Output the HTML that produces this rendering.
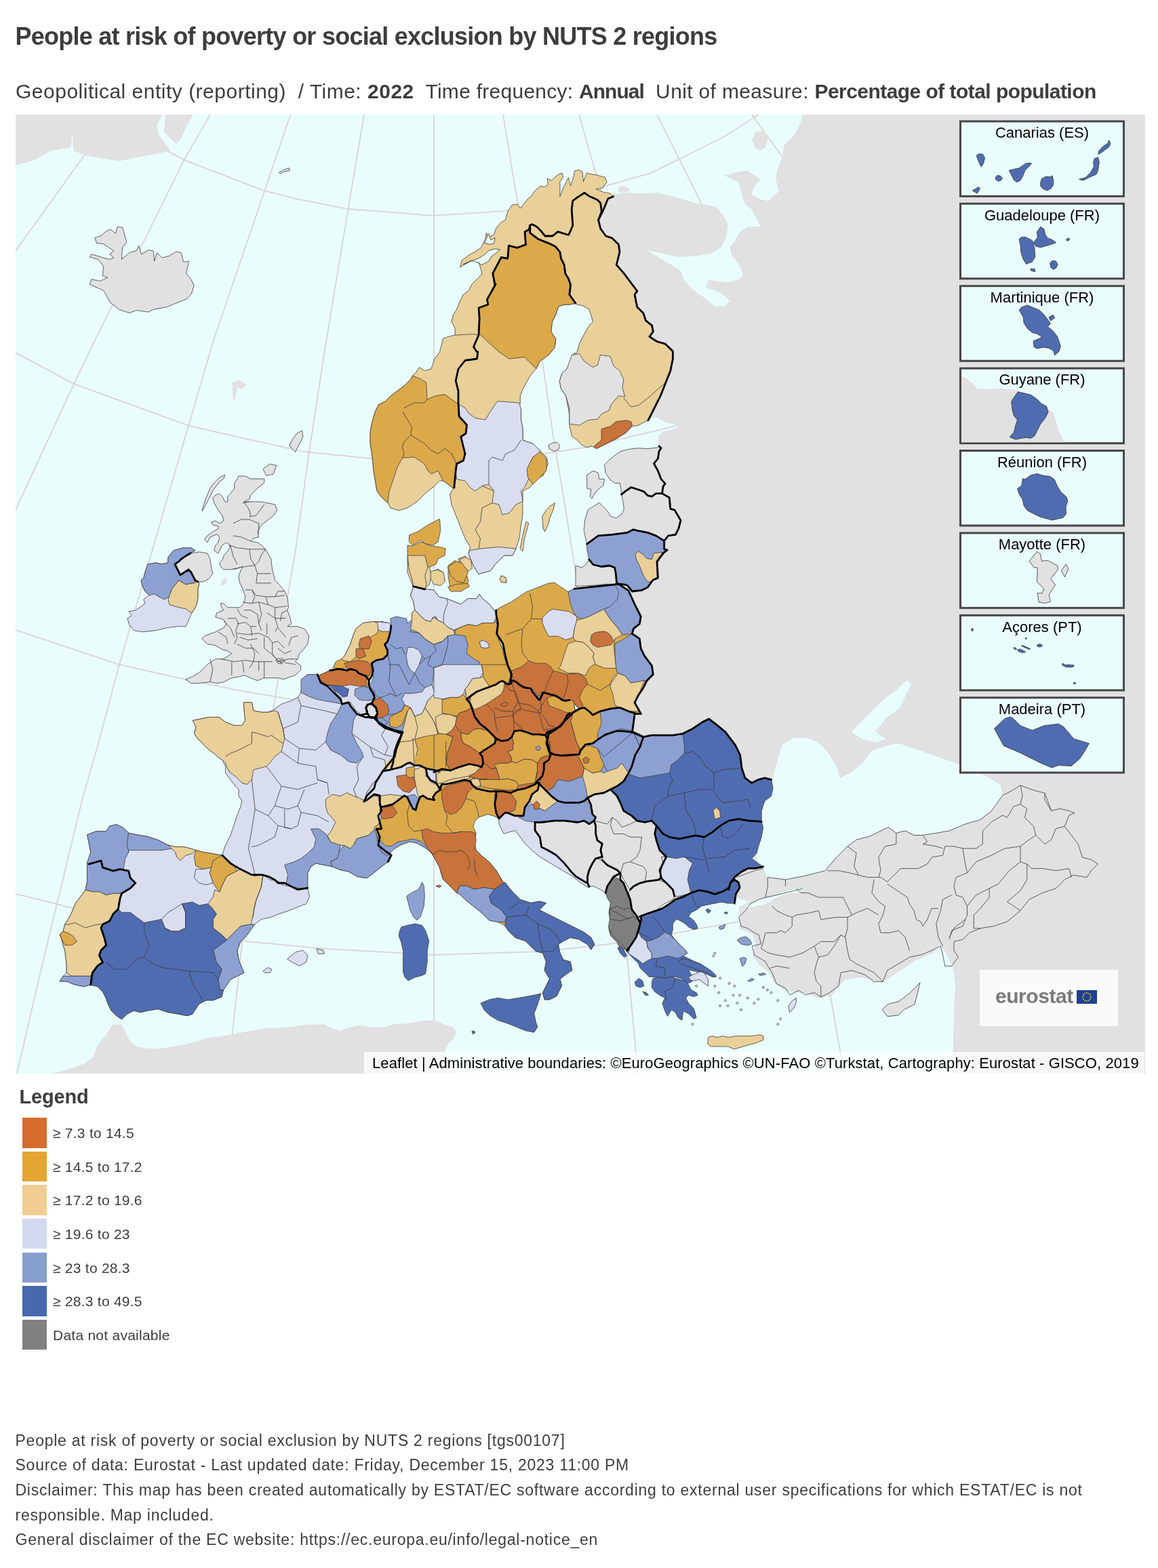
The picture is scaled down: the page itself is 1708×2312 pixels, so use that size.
<!DOCTYPE html>
<html><head><meta charset="utf-8"><title>People at risk of poverty or social exclusion by NUTS 2 regions</title>
<style>
html,body{margin:0;padding:0;background:#fff;}
body{width:1708px;height:2312px;position:relative;overflow:hidden;font-family:"Liberation Sans",Arial,sans-serif;color:#3d3d3d;}
.t{position:absolute;white-space:nowrap;line-height:1;}
#title{left:22.5px;top:36.3px;font-size:36px;font-weight:bold;letter-spacing:-0.75px;}
#sub{left:23px;top:119.9px;font-size:30px;}
#sub .n1{letter-spacing:0.5px;} #sub .n2{letter-spacing:0.27px;} #sub .n3{letter-spacing:0.35px;}
#sub b{font-weight:bold;}
#sub .b1{letter-spacing:0.5px;} #sub .b2{letter-spacing:-1px;} #sub .b3{letter-spacing:-0.55px;}
#map{position:absolute;left:23px;top:169px;width:1666px;height:1414px;overflow:hidden;background:#eafdfd;}
#map svg.m{position:absolute;left:0;top:0;}
#logo{position:absolute;left:1422px;top:1261px;width:204px;height:83px;background:#fafafa;}
#attr{position:absolute;left:514px;top:1382.3px;width:1151px;height:31.7px;background:rgba(255,255,255,0.72);}
#attr span{position:absolute;left:12px;top:6px;font-size:22px;letter-spacing:0.09px;color:#000;white-space:nowrap;line-height:1;}
#legend-title{left:28.5px;top:1603.3px;font-size:29px;font-weight:bold;letter-spacing:-0.2px;}
.sw{position:absolute;left:33px;width:36px;height:44.6px;}
.lt{position:absolute;left:78px;font-size:21px;letter-spacing:0.25px;color:#3d3d3d;white-space:nowrap;line-height:1;}
.ft{position:absolute;left:22.5px;font-size:23px;color:#3d3d3d;white-space:nowrap;line-height:1;letter-spacing:0.75px;}
</style></head><body>
<div class="t" id="title">People at risk of poverty or social exclusion by NUTS 2 regions</div>
<div class="t" id="sub"><span class="n1">Geopolitical entity (reporting)&nbsp; / Time: </span><b class="b1">2022</b><span class="n2">&nbsp; Time frequency: </span><b class="b2">Annual</b><span class="n3">&nbsp; Unit of measure: </span><b class="b3">Percentage of total population</b></div>
<div id="map">
<svg class="m" width="1666" height="1414" viewBox="23 169 1666 1414">
<g fill="none" stroke="#dcd6d6" stroke-width="2">
<path d="M246.0,222.0 272.0,236.0 389.0,281.0 436.0,293.0 513.0,308.0 640.0,318.0 746.0,311.0 873.0,280.0 960.0,255.0 999.0,236.0 1069.0,201.0 1119.0,169.0"/>
<path d="M23.0,520.0 109.0,566.0 278.0,627.5 323.0,638.0 448.0,666.0 546.0,676.0 640.0,677.0 801.0,669.0 862.0,660.0 985.0,631.0 1010.0,624.0"/>
<path d="M23.0,929.0 176.0,980.0 270.0,1001.0 357.0,1019.0 430.0,1031.0 500.0,1040.0"/>
<path d="M23.0,1318.0 60.0,1327.0 111.0,1340.0 363.0,1388.0 480.0,1399.0 638.0,1408.0 800.0,1403.0 890.0,1393.0 928.0,1388.0 996.0,1376.0 1089.0,1359.0"/>
<path d="M23.0,370.0 125.0,228.0 166.0,169.0"/>
<path d="M310.0,169.0 272.0,235.0 141.0,500.0 109.0,566.0 23.0,752.0"/>
<path d="M428.5,169.0 390.4,281.0 315.5,500.0 278.0,627.5 221.6,822.0 176.0,980.0 144.0,1100.0 121.0,1180.0 60.0,1432.0 25.0,1583.0"/>
<path d="M537.0,169.0 513.5,308.0 478.5,519.0 456.0,666.0 436.0,811.0 424.0,880.0 410.0,1002.0 403.0,1048.0 380.0,1230.0 357.0,1391.0 342.0,1531.0 338.0,1583.0"/>
<path d="M640.0,169.0 640.0,1583.0"/>
<path d="M742.0,169.0 763.5,299.0 801.0,539.0 816.0,644.0 829.0,720.0 849.0,844.0 900.0,1200.0 924.6,1405.6 938.0,1553.0 941.0,1583.0"/>
<path d="M854.0,169.0 879.0,256.5 900.0,330.0"/>
<path d="M969.0,169.0 1034.0,299.0 1060.0,350.0"/>
<path d="M1109.0,169.0 1154.0,231.5"/>
<path d="M1080.0,1000.0 1141.7,1129.8 1185.6,1285.0 1200.0,1350.0"/>
<path d="M1380.0,1050.0 1417.0,1138.0 1445.0,1205.6"/>
<path d="M1205.0,1380.0 1225.0,1469.0 1245.0,1583.0"/>
</g>
<g stroke="none" stroke-linejoin="round">
<path d="M23.0,169.0 239.1,169.0 231.5,184.3 234.0,199.5 251.8,222.4 213.7,230.0 175.6,237.6 129.8,230.0 108.2,222.4 106.9,197.0 104.4,217.3 73.9,222.4 53.5,235.1 23.0,244.0Z" fill="#e1e1e1"/>
<path d="M244.2,169.0 284.9,169.0 277.3,181.7 267.1,204.6 259.5,212.2 241.7,194.4Z" fill="#e1e1e1"/>
<path d="M140.0,350.8 150.1,347.0 155.2,341.9 162.8,338.1 170.5,344.4 173.0,334.3 180.6,335.5 187.0,357.2 180.6,364.8 179.4,382.6 190.8,372.4 201.0,369.9 204.8,362.2 208.6,374.9 218.8,368.6 226.4,369.9 227.7,385.1 231.5,372.4 239.1,380.0 249.3,377.5 259.5,371.1 267.1,372.4 270.9,386.4 278.5,385.1 274.7,402.9 282.3,413.1 286.2,420.7 282.3,433.4 274.7,441.1 262.0,446.1 246.7,452.5 226.4,456.3 218.8,460.1 201.0,457.6 190.8,461.4 175.6,456.3 162.8,446.1 152.7,428.3 132.3,419.4 134.9,411.8 147.6,414.4 159.0,409.3 151.4,406.7 152.7,392.7 145.0,382.6 132.3,378.8 134.9,374.9 161.6,382.6 167.9,380.0 161.6,374.9 167.9,369.9 152.7,359.7 142.5,358.4Z" fill="#e1e1e1" stroke="#3c3c3c" stroke-width="0.8"/>
<path d="M411.5,254.2 419.6,249.9 426.8,247.8 427.3,251.6 419.6,252.9 413.3,256.0Z" fill="#e1e1e1" stroke="#3c3c3c" stroke-width="0.8"/>
<path d="M343.0,564.0 353.0,560.0 363.0,566.5 358.0,574.0 350.5,571.5 348.0,584.0 345.5,594.0 343.0,584.0Z" fill="#e1e1e1"/>
<path d="M430.5,649.0 438.0,639.0 445.5,635.0 447.0,644.0 440.5,656.5 435.5,666.5 430.5,661.5 427.0,656.5Z" fill="#e1e1e1" stroke="#3c3c3c" stroke-width="0.8"/>
<path d="M388.0,691.5 398.0,684.0 408.0,686.5 403.0,699.0 393.0,701.5Z" fill="#e1e1e1" stroke="#3c3c3c" stroke-width="0.8"/>
<path d="M904.0,286.5 924.0,284.0 949.0,285.2 969.0,284.0 999.0,291.5 1024.0,299.0 1039.0,301.5 1056.5,305.2 1066.5,316.5 1074.0,331.5 1071.5,349.0 1064.0,364.0 1049.0,374.0 1024.0,377.8 999.0,379.0 979.0,374.0 954.0,369.0 979.0,384.0 1004.0,399.0 1009.0,414.0 1024.0,429.0 1039.0,439.0 1054.0,451.5 1069.0,451.5 1076.5,444.0 1069.0,436.5 1056.5,429.0 1041.5,424.0 1044.0,412.8 1074.0,416.5 1091.5,411.5 1096.5,404.0 1089.0,389.0 1079.0,376.5 1076.5,364.0 1081.5,359.0 1091.5,341.5 1104.0,334.0 1121.5,334.0 1114.0,319.0 1109.0,309.0 1099.0,301.5 1094.0,286.5 1089.0,269.0 1074.0,261.5 1069.0,259.0 1086.5,254.0 1101.5,251.5 1114.0,259.0 1121.5,264.0 1111.5,276.5 1109.0,286.5 1121.5,294.0 1134.0,296.5 1149.0,281.5 1144.0,264.0 1146.5,249.0 1154.0,231.5 1156.5,214.0 1171.5,199.0 1181.5,179.0 1184.0,169.0 1689.0,169.0 1689.0,1583.0 1405.0,1583.0 1407.0,1488.8 1409.0,1448.9 1405.0,1425.0 1393.0,1401.0 1385.0,1393.1 1377.1,1405.0 1349.1,1417.0 1325.2,1433.0 1301.3,1448.9 1269.3,1440.9 1245.4,1444.9 1225.5,1468.9 1205.5,1470.9 1189.6,1464.9 1157.7,1460.9 1141.7,1448.9 1133.7,1433.0 1121.8,1425.0 1109.8,1409.0 1113.8,1393.1 1109.8,1377.1 1089.8,1369.1 1091.8,1361.2 1089.8,1337.2 1105.8,1329.2 1089.8,1325.3 1060.0,1300.0 1000.0,1330.0 960.0,1330.0 900.0,1280.0 860.0,1260.0 850.0,1200.0 880.0,1100.0 900.0,1000.0 920.0,900.0 930.0,800.0 930.0,700.0 950.0,670.0 972.1,657.7 970.5,650.1 970.5,644.1 978.1,636.5 990.3,633.4 1002.5,629.6 994.9,625.8 981.2,622.8 967.5,615.2 955.4,619.8 956.1,619.7 965.2,601.6 974.3,583.4 981.5,565.3 988.8,547.1 992.4,529.0 992.4,518.1 981.5,507.2 968.8,503.5 957.9,496.3 963.4,489.0 961.6,479.9 952.5,472.7 948.9,461.8 939.8,452.7 936.1,434.5 939.8,429.1 932.5,420.0 920.3,403.1 909.3,390.5 914.0,371.6 912.5,360.6 903.0,351.2 893.6,348.0 885.7,337.0 882.6,324.4 885.7,318.1 888.9,311.8 893.6,300.8 896.7,293.0 904.6,289.8Z" fill="#e1e1e1"/>
<path d="M1139.7,1147.7 1145.7,1125.8 1153.7,1097.9 1169.6,1087.9 1189.6,1087.9 1205.5,1093.9 1221.5,1109.8 1233.4,1129.8 1239.4,1147.7 1257.4,1137.8 1273.3,1123.8 1285.3,1107.8 1305.3,1099.9 1325.2,1095.9 1349.1,1103.9 1377.1,1113.8 1405.0,1123.8 1432.9,1133.8 1456.8,1145.7 1472.8,1155.7 1475.6,1156.3 1478.8,1172.7 1462.5,1195.6 1446.1,1208.6 1423.2,1215.2 1400.4,1225.0 1380.8,1228.3 1361.1,1231.5 1348.1,1231.5 1335.0,1225.0 1321.9,1228.3 1310.5,1220.1 1305.6,1221.7 1282.7,1233.2 1263.1,1238.1 1250.0,1247.9 1233.6,1264.2 1217.3,1283.8 1184.6,1292.0 1158.5,1296.9 1132.3,1293.6 1125.8,1280.6 1121.8,1277.4 1111.8,1257.4 1115.8,1225.5 1123.7,1201.6 1125.7,1169.7Z" fill="#eafdfd"/>
<path d="M1255.7,1079.0 1271.0,1064.0 1291.0,1044.0 1306.5,1028.5 1321.8,1018.0 1337.0,1003.0 1344.7,1008.0 1337.0,1023.0 1327.0,1044.0 1306.5,1059.0 1291.0,1079.0 1306.5,1089.5 1291.0,1094.6 1271.0,1089.5Z" fill="#eafdfd"/>
<path d="M1099.6,1336.1 1119.2,1326.3 1138.8,1323.1 1161.7,1313.3 1184.6,1308.4 1187.9,1310.0 1174.8,1316.5 1158.5,1318.2 1145.4,1323.1 1129.0,1332.9 1116.0,1336.1 1102.9,1339.4Z" fill="#eafdfd"/>
<path d="M1109.0,206.5 1114.0,194.0 1126.5,192.8 1134.0,201.5 1129.0,216.5 1121.5,222.8 1114.0,219.0Z" fill="#e1e1e1"/>
<path d="M911.5,276.5 916.5,274.0 926.5,276.5 929.0,281.5 921.5,284.0 912.8,282.8Z" fill="#e1e1e1"/>
<path d="M648.5,519.0 651.0,509.0 653.5,499.0 661.0,496.5 671.0,494.0 671.0,484.0 666.0,474.0 668.5,464.0 673.5,456.5 678.5,444.0 683.5,434.0 691.0,429.0 696.0,419.0 703.5,411.5 711.0,404.0 708.5,394.0 706.0,386.5 696.0,384.0 678.5,394.0 681.0,384.0 691.0,376.5 700.0,371.5 700.0,371.6 709.4,365.3 715.7,352.8 717.3,343.3 720.5,349.6 728.3,346.5 731.5,337.0 739.3,327.6 745.6,324.4 748.8,311.8 755.1,302.4 763.0,300.8 767.7,307.1 772.4,300.8 778.7,293.0 783.4,289.8 788.1,281.9 797.6,274.1 802.3,275.6 808.6,272.5 807.0,263.1 813.3,266.2 818.0,261.5 824.3,256.8 829.1,255.2 830.6,261.5 825.9,267.8 825.9,289.8 830.6,277.2 838.5,261.5 841.6,274.1 844.8,264.6 847.9,252.0 854.2,250.5 859.0,253.6 860.5,267.8 865.3,255.2 873.1,256.8 881.0,258.3 892.0,261.5 895.2,267.8 888.9,277.2 879.4,278.8 890.4,283.5 899.9,285.1 904.6,289.8 896.7,293.0 893.6,300.8 888.9,311.8 885.7,318.1 882.6,324.4 887.3,311.8 885.7,299.2 881.0,294.5 870.0,289.8 862.1,284.3 851.1,291.4 844.8,296.1 843.2,308.7 844.8,332.3 841.6,340.2 838.5,346.5 822.8,341.7 814.9,348.0 803.9,348.0 797.6,340.2 791.3,333.9 785.0,330.7 781.8,332.3 780.3,338.6 774.0,341.7 775.5,360.6 763.0,365.3 750.4,362.2 748.8,381.1 739.3,379.5 726.8,403.1 729.9,420.0 731.0,419.0 718.5,441.5 719.8,449.0 706.0,454.0 707.2,469.0 706.0,494.0 698.5,511.5 703.5,519.0 704.8,519.0 703.5,529.0 686.0,531.5 676.0,544.0 672.2,561.5 676.0,576.5 676.0,594.0 677.2,614.0 688.5,626.5 687.2,639.0 679.8,644.0 683.5,659.0 686.0,669.0 683.5,679.0 673.5,684.0 672.2,694.0 671.0,706.5 669.8,719.0 668.5,720.2 661.0,714.0 653.5,709.0 648.5,709.0 641.0,716.5 628.5,726.5 616.0,739.0 601.0,749.0 588.5,752.8 576.0,749.0 572.2,741.5 563.5,734.0 556.0,724.0 553.5,709.0 551.0,694.0 549.8,681.5 548.5,669.0 546.0,654.0 546.0,636.5 548.5,624.0 553.5,606.5 558.5,596.5 568.5,591.5 576.0,584.0 586.0,576.5 596.0,569.0 606.0,559.0 608.5,554.0 613.5,549.0 618.5,541.5 626.0,546.5 636.0,544.0 641.0,529.0 648.5,519.0Z" fill="#e9cf98" stroke="#3c3c3c" stroke-width="0.8"/>
<path d="M608.5,554.0 621.0,559.0 628.5,564.0 629.8,581.5 629.8,589.0 641.0,584.0 656.0,581.5 673.5,594.0 676.0,594.0 677.2,614.0 688.5,626.5 687.2,639.0 679.8,644.0 683.5,659.0 686.0,669.0 683.5,679.0 673.5,684.0 672.2,694.0 671.0,706.5 669.8,719.0 668.5,720.2 661.0,714.0 653.5,709.0 651.0,704.0 646.0,694.0 636.0,699.0 631.0,694.0 626.0,684.0 611.0,674.0 593.5,675.2 586.0,689.0 578.5,711.5 573.5,726.5 572.2,741.5 563.5,734.0 556.0,724.0 553.5,709.0 551.0,694.0 549.8,681.5 548.5,669.0 546.0,654.0 546.0,636.5 548.5,624.0 553.5,606.5 558.5,596.5 568.5,591.5 576.0,584.0 586.0,576.5 596.0,569.0 606.0,559.0Z" fill="#dba94a" stroke="#3c3c3c" stroke-width="0.8"/>
<path d="M683.0,389.8 694.0,385.0 705.0,381.4 714.4,375.9 720.7,369.6 730.2,366.8 737.7,368.4 730.2,374.3 723.9,379.1 720.7,385.3 712.9,389.3 708.9,390.5 706.6,387.2 695.5,384.7Z" fill="#eafdfd" stroke="#333" stroke-width="0.8"/>
<path d="M714.4,358.6 720.7,344.4 723.9,353.9 730.2,350.7 728.6,358.6 722.3,360.2Z" fill="#eafdfd" stroke="#333" stroke-width="0.8"/>
<path d="M781.8,332.3 781.8,343.3 794.4,352.8 810.2,359.1 819.6,363.8 825.9,371.6 827.5,381.1 832.2,390.5 833.8,403.1 838.5,411.0 841.6,420.0 839.9,434.5 849.0,447.2 839.9,449.1 832.6,449.1 823.6,451.8 819.9,463.6 814.5,474.5 812.7,489.0 819.9,499.9 818.1,512.6 809.0,523.5 796.3,532.6 790.9,543.5 781.8,554.4 772.7,570.7 767.3,583.4 767.3,594.3 765.4,601.6 760.0,603.4 768.5,604.0 768.5,619.0 771.0,631.5 771.0,649.0 786.0,654.0 796.0,664.0 806.0,674.0 808.5,684.0 801.0,701.5 791.0,706.5 781.0,719.0 771.0,724.0 771.0,744.0 771.0,759.0 768.5,774.0 766.0,794.0 761.0,809.0 756.0,819.0 743.5,819.0 731.0,831.5 723.5,841.5 706.0,846.5 701.0,839.0 696.0,829.0 691.0,816.5 693.5,806.5 686.0,794.0 681.0,781.5 676.0,769.0 671.0,756.5 666.0,744.0 663.5,729.0 668.5,720.2 669.8,719.0 671.0,706.5 672.2,694.0 673.5,684.0 683.5,679.0 686.0,669.0 683.5,659.0 679.8,644.0 687.2,639.0 688.5,626.5 677.2,614.0 676.0,594.0 676.0,576.5 672.2,561.5 676.0,544.0 686.0,531.5 703.5,529.0 704.8,519.0 703.5,519.0 698.5,511.5 706.0,494.0 707.2,469.0 706.0,454.0 719.8,449.0 718.5,441.5 731.0,419.0 726.8,403.1 739.3,379.5 748.8,381.1 750.4,362.2 763.0,365.3 775.5,360.6 774.0,341.7 780.3,338.6Z" fill="#e9cf98" stroke="#3c3c3c" stroke-width="0.8"/>
<path d="M781.8,332.3 781.8,343.3 794.4,352.8 810.2,359.1 819.6,363.8 825.9,371.6 827.5,381.1 832.2,390.5 833.8,403.1 838.5,411.0 841.6,420.0 839.9,434.5 849.0,447.2 839.9,449.1 832.6,449.1 823.6,451.8 819.9,463.6 814.5,474.5 812.7,489.0 819.9,499.9 818.1,512.6 809.0,523.5 796.3,532.6 790.9,543.5 791.0,544.0 773.5,526.5 751.0,529.0 736.0,519.0 736.0,519.0 706.0,491.5 707.2,469.0 706.0,454.0 719.8,449.0 718.5,441.5 731.0,419.0 726.8,403.1 739.3,379.5 748.8,381.1 750.4,362.2 763.0,365.3 775.5,360.6 774.0,341.7 780.3,338.6Z" fill="#dba94a" stroke="#3c3c3c" stroke-width="0.8"/>
<path d="M677.2,596.5 686.0,601.5 691.0,609.0 701.0,616.5 716.0,619.0 723.5,606.5 733.5,591.5 766.0,594.0 768.5,604.0 768.5,619.0 771.0,631.5 771.0,649.0 786.0,654.0 796.0,664.0 796.0,669.0 786.0,674.0 778.5,691.5 781.0,704.0 773.5,719.0 768.5,724.0 771.0,739.0 761.0,744.0 751.0,756.5 741.0,759.0 736.0,744.0 726.0,741.5 728.5,724.0 721.0,714.0 711.0,716.5 701.0,724.0 693.5,719.0 686.0,709.0 673.5,706.5 672.2,694.0 673.5,684.0 683.5,679.0 686.0,669.0 683.5,659.0 679.8,644.0 687.2,639.0 688.5,626.5 677.2,614.0Z" fill="#d9ddf0" stroke="#3c3c3c" stroke-width="0.8"/>
<path d="M786.0,674.0 796.0,666.5 806.0,676.5 806.0,694.0 796.0,704.0 786.0,714.0 778.5,704.0 777.2,691.5Z" fill="#dba94a" stroke="#3c3c3c" stroke-width="0.8"/>
<path d="M693.5,811.5 708.5,809.0 736.0,806.5 761.0,809.0 756.0,819.0 743.5,819.0 731.0,831.5 723.5,841.5 706.0,846.5 701.0,839.0 696.0,829.0 691.0,816.5Z" fill="#d9ddf0" stroke="#3c3c3c" stroke-width="0.8"/>
<path d="M799.8,761.5 806.0,751.5 811.0,746.5 818.5,741.5 816.0,751.5 811.0,764.0 808.5,774.0 803.5,784.0 801.0,779.0Z" fill="#e9cf98" stroke="#3c3c3c" stroke-width="0.8"/>
<path d="M776.0,769.0 779.8,771.5 773.5,794.0 771.0,812.8 767.2,809.0 771.0,789.0Z" fill="#e9cf98" stroke="#3c3c3c" stroke-width="0.8"/>
<path d="M603.5,789.0 616.0,784.0 631.0,774.0 648.5,765.2 649.8,781.5 646.0,799.0 638.5,804.0 626.0,801.5 621.0,796.5 608.5,804.0 603.5,799.0Z" fill="#dba94a" stroke="#3c3c3c" stroke-width="0.8"/>
<path d="M601.0,804.0 608.5,805.2 621.0,799.0 636.0,805.2 648.5,806.5 657.2,809.0 656.0,819.0 646.0,824.0 643.5,831.5 633.5,836.5 618.5,829.0 601.0,831.5Z" fill="#dba94a" stroke="#3c3c3c" stroke-width="0.8"/>
<path d="M601.0,831.5 618.5,829.0 633.5,836.5 636.0,849.0 633.5,861.5 626.0,869.0 611.0,869.0 606.0,856.5 601.0,844.0Z" fill="#e9cf98" stroke="#3c3c3c" stroke-width="0.8"/>
<path d="M636.0,844.0 646.0,839.0 653.5,844.0 656.0,856.5 648.5,861.5 638.5,859.0Z" fill="#e9cf98" stroke="#3c3c3c" stroke-width="0.8"/>
<path d="M661.0,834.0 671.0,826.5 678.5,831.5 686.0,841.5 691.0,856.5 686.0,866.5 673.5,869.0 663.5,864.0 661.0,849.0Z" fill="#dba94a" stroke="#3c3c3c" stroke-width="0.8"/>
<path d="M676.0,824.0 686.0,820.2 693.5,826.5 693.5,839.0 686.0,841.5 678.5,831.5Z" fill="#e9cf98" stroke="#3c3c3c" stroke-width="0.8"/>
<path d="M738.5,849.0 746.0,851.5 747.2,859.0 739.8,857.8Z" fill="#e9cf98" stroke="#3c3c3c" stroke-width="0.8"/>
<path d="M781.8,332.3 785.0,330.7 791.3,333.9 797.6,340.2 803.9,348.0 814.9,348.0 822.8,341.7 838.5,346.5 841.6,340.2 844.8,332.3 843.2,308.7 844.8,296.1 851.1,291.4 862.1,284.3 870.0,289.8 881.0,294.5 885.7,299.2 887.3,311.8 882.6,324.4 885.7,337.0 893.6,348.0 903.0,351.2 912.5,360.6 914.0,371.6 909.3,390.5 920.3,403.1 932.9,420.0 939.8,429.1 936.1,434.5 939.8,452.7 948.9,461.8 952.5,472.7 961.6,479.9 963.4,489.0 957.9,496.3 968.8,503.5 981.5,507.2 992.4,518.1 992.4,529.0 988.8,547.1 981.5,565.3 974.3,583.4 965.2,601.6 956.1,619.7 941.6,627.0 932.5,628.8 923.4,637.9 908.9,647.0 894.4,654.2 879.8,661.5 872.6,657.9 865.3,659.7 858.1,656.1 850.8,648.8 843.5,643.4 839.9,627.0 839.9,612.5 838.1,601.6 834.5,583.4 827.2,572.5 825.4,561.6 829.0,550.7 836.3,543.5 841.7,532.6 845.3,521.7 850.8,519.9 854.4,507.2 861.7,492.6 869.0,479.9 874.4,474.5 872.6,467.2 869.0,456.3 859.9,450.9 850.8,449.1 849.0,447.2 839.9,434.5 841.6,420.0 838.5,411.0 833.8,403.1 832.2,390.5 827.5,381.1 825.9,371.6 819.6,363.8 810.2,359.1 794.4,352.8 781.8,343.3Z" fill="#e9cf98" stroke="#3c3c3c" stroke-width="0.8"/>
<path d="M825.4,561.6 829.0,550.7 836.3,543.5 843.5,523.5 854.4,521.7 861.7,532.6 874.4,541.7 881.7,538.0 885.3,523.5 899.8,525.3 905.3,539.8 914.3,547.1 919.8,559.8 918.0,570.7 921.6,585.2 912.5,583.4 901.6,596.1 898.0,605.2 887.1,610.7 881.7,617.9 867.1,619.7 854.4,627.0 839.9,625.2 839.9,601.6 834.5,583.4 827.2,572.5Z" fill="#e1e1e1" stroke="#3c3c3c" stroke-width="0.8"/>
<path d="M876.2,657.9 887.1,648.8 887.1,632.5 899.8,628.8 908.9,621.6 923.4,619.7 930.7,621.6 932.5,627.0 923.4,637.9 908.9,647.0 894.4,654.2 879.8,661.5Z" fill="#c8733c" stroke="#3c3c3c" stroke-width="0.8"/>
<path d="M809.0,656.1 814.5,653.3 821.7,652.4 825.4,656.1 823.6,663.3 816.3,665.1 809.9,661.5Z" fill="#e1e1e1" stroke="#3c3c3c" stroke-width="0.8"/>
<path d="M891.5,685.1 897.6,679.0 906.7,671.4 915.9,665.3 928.0,662.3 940.2,660.8 955.4,661.5 970.5,660.0 972.1,657.7 975.1,660.8 972.1,665.3 970.5,676.0 964.5,683.6 970.5,694.2 975.1,706.4 981.2,713.2 978.1,717.0 976.6,727.6 967.5,727.6 961.4,732.2 955.4,730.7 949.3,724.6 940.2,721.5 931.0,718.5 921.9,724.6 916.6,729.1 915.9,721.5 914.3,712.4 906.7,712.4 899.1,706.4 893.1,697.2Z" fill="#e1e1e1" stroke="#3c3c3c" stroke-width="0.8"/>
<path d="M865.7,700.3 874.8,694.2 882.4,697.2 883.9,706.4 891.5,706.4 890.0,715.5 882.4,721.5 876.3,729.1 873.3,735.2 870.3,732.2 871.8,721.5 865.7,720.0Z" fill="#e1e1e1" stroke="#3c3c3c" stroke-width="0.8"/>
<path d="M916.6,729.1 921.9,724.6 931.0,718.5 940.2,721.5 949.3,724.6 955.4,730.7 961.4,732.2 967.5,727.6 976.6,727.6 987.3,733.7 988.8,750.4 994.9,751.9 1004.0,767.1 1000.9,779.3 996.4,788.4 985.7,789.9 979.7,797.5 967.5,789.9 955.4,785.4 940.2,782.3 934.1,780.8 925.0,785.4 902.2,788.4 882.4,789.9 865.7,802.1 861.2,782.3 862.7,767.1 867.2,751.9 876.3,745.9 883.9,741.3 894.6,751.9 900.7,761.1 908.3,764.1 917.4,758.0 920.4,750.4 918.9,739.8Z" fill="#e1e1e1" stroke="#3c3c3c" stroke-width="0.8"/>
<path d="M865.7,802.1 882.4,789.9 902.2,788.4 925.0,785.4 934.1,780.8 940.2,782.3 955.4,785.4 967.5,789.9 979.7,797.5 979.7,809.7 984.2,811.2 978.1,815.7 969.0,827.9 970.5,852.2 963.0,855.3 955.4,865.9 946.2,870.4 932.6,872.0 925.0,862.9 917.4,861.3 909.8,861.3 908.3,846.1 906.7,837.0 899.1,834.0 887.0,835.5 874.8,832.5 868.8,824.9 865.7,809.7Z" fill="#8ca1d2" stroke="#3c3c3c" stroke-width="0.8"/>
<path d="M937.1,817.3 941.7,812.7 947.8,817.3 953.8,823.3 961.4,824.9 964.5,815.7 979.7,814.2 982.7,812.7 975.1,821.8 969.0,830.9 969.0,850.7 961.4,856.8 955.4,858.3 949.3,849.2 943.2,834.0 938.6,824.9Z" fill="#e9cf98" stroke="#3c3c3c" stroke-width="0.8"/>
<path d="M849.0,834.0 858.1,837.0 865.7,830.9 868.8,824.9 874.8,832.5 887.0,835.5 899.1,834.0 906.7,837.0 908.3,846.1 909.8,861.3 891.5,861.3 879.4,862.9 849.0,864.4Z" fill="#e1e1e1" stroke="#3c3c3c" stroke-width="0.8"/>
<path d="M731.8,899.9 736.3,896.3 754.5,887.2 776.3,872.7 790.8,867.2 809.0,860.0 818.0,859.1 827.1,865.4 838.0,872.7 847.1,868.1 863.4,866.3 881.6,864.5 907.0,861.8 910.7,860.0 927.0,870.9 936.1,890.8 945.2,909.0 943.3,919.9 934.3,927.2 932.4,934.4 943.3,941.7 945.2,956.2 950.6,967.1 961.5,981.6 963.3,994.4 954.2,1003.4 948.8,1014.3 941.5,1025.2 936.1,1036.1 943.3,1048.8 945.2,1052.5 939.7,1052.5 927.0,1048.8 914.3,1043.4 899.8,1045.2 885.2,1048.8 874.3,1054.3 868.9,1048.8 861.6,1043.4 854.4,1045.2 845.3,1036.1 834.4,1032.5 827.1,1028.9 818.0,1023.4 809.0,1023.4 799.9,1019.8 794.4,1027.0 787.2,1018.0 779.9,1014.3 769.0,1010.7 758.1,1003.4 752.7,1005.3 754.5,994.4 749.0,981.6 745.4,967.1 741.8,949.0 732.7,934.4 734.5,919.9 731.8,905.4Z" fill="#dba94a" stroke="#3c3c3c" stroke-width="0.8"/>
<path d="M838.0,872.7 847.1,868.1 881.6,864.5 907.0,861.8 910.7,860.0 927.0,870.9 936.1,890.8 945.2,909.0 943.3,919.9 934.3,927.2 932.4,934.4 917.9,936.2 910.7,925.4 899.8,912.6 890.7,898.1 868.9,909.0 858.0,912.6 850.7,909.0 845.3,901.7 841.6,890.8Z" fill="#8ca1d2" stroke="#3c3c3c" stroke-width="0.8"/>
<path d="M799.9,910.8 809.0,901.7 814.4,898.1 827.1,899.9 839.8,901.7 850.7,909.0 850.7,916.3 847.1,927.2 845.3,939.9 834.4,943.5 823.5,938.1 809.0,938.1 803.5,927.2 799.9,918.1Z" fill="#d9ddf0" stroke="#3c3c3c" stroke-width="0.8"/>
<path d="M850.7,914.5 858.0,912.6 868.9,909.0 890.7,898.1 899.8,912.6 910.7,925.4 917.9,936.2 907.0,941.7 905.2,952.6 907.0,967.1 908.8,985.3 892.5,985.3 878.0,979.8 874.3,968.9 876.1,963.5 867.1,952.6 859.8,947.1 848.9,945.3 845.3,939.9 847.1,927.2Z" fill="#e9cf98" stroke="#3c3c3c" stroke-width="0.8"/>
<path d="M827.1,981.6 834.4,958.0 838.0,949.0 848.9,945.3 859.8,947.1 867.1,952.6 876.1,963.5 874.3,968.9 878.0,978.0 868.9,985.3 863.4,996.2 852.5,992.5 838.0,992.5 823.5,985.3Z" fill="#e9cf98" stroke="#3c3c3c" stroke-width="0.8"/>
<path d="M872.5,936.2 878.0,932.6 890.7,930.8 896.1,932.6 901.6,938.1 905.2,945.3 901.6,950.8 892.5,952.6 881.6,954.4 874.3,950.8 870.7,945.3Z" fill="#c8733c" stroke="#3c3c3c" stroke-width="0.8"/>
<path d="M907.0,949.0 917.9,943.5 932.4,934.4 943.3,941.7 945.2,956.2 950.6,967.1 961.5,981.6 963.3,994.4 954.2,1003.4 930.6,1007.1 921.5,996.2 910.7,992.5 908.8,985.3 907.0,967.1Z" fill="#8ca1d2" stroke="#3c3c3c" stroke-width="0.8"/>
<path d="M910.7,992.5 921.5,996.2 930.6,1007.1 950.6,1003.4 941.5,1025.2 936.1,1036.1 943.3,1048.8 927.0,1048.8 914.3,1043.4 907.0,1039.8 903.4,1021.6 899.8,1012.5 903.4,999.8Z" fill="#e9cf98" stroke="#3c3c3c" stroke-width="0.8"/>
<path d="M754.5,988.9 769.0,983.5 779.9,974.4 790.8,978.0 805.3,978.0 812.6,983.5 816.2,988.9 836.2,994.4 852.5,992.5 863.4,999.8 867.1,1008.9 859.8,1016.1 854.4,1028.9 859.8,1039.8 856.2,1045.2 845.3,1036.1 834.4,1032.5 827.1,1028.9 818.0,1023.4 809.0,1023.4 799.9,1019.8 794.4,1027.0 787.2,1018.0 779.9,1014.3 769.0,1010.7 758.1,1003.4 754.5,994.4Z" fill="#c8733c" stroke="#3c3c3c" stroke-width="0.8"/>
<path d="M752.7,1005.3 758.1,1007.1 769.0,1012.5 779.9,1014.3 785.4,1018.0 794.4,1028.9 799.9,1021.6 809.0,1023.4 818.0,1025.2 827.1,1030.7 838.0,1034.3 843.5,1039.8 848.9,1047.0 845.3,1050.7 838.0,1057.9 832.6,1063.4 827.1,1070.6 816.2,1077.9 809.0,1081.5 805.3,1083.3 794.4,1083.3 783.5,1081.5 772.6,1079.7 758.1,1077.9 754.5,1087.0 745.4,1090.6 732.7,1090.6 721.8,1079.7 710.9,1067.0 700.0,1054.3 700.0,1027.0 707.3,1025.2 721.8,1014.3 736.3,1010.7 741.8,1003.4Z" fill="#c8733c" stroke="#3c3c3c" stroke-width="0.8"/>
<path d="M807.1,1028.9 818.0,1025.2 827.1,1030.7 838.0,1034.3 845.3,1045.2 841.6,1050.7 827.1,1047.0 816.2,1043.4 809.0,1037.9Z" fill="#dba94a" stroke="#3c3c3c" stroke-width="0.8"/>
<path d="M739.0,1037.0 743.6,1033.4 749.0,1036.1 748.1,1040.7 742.7,1041.6Z" fill="#c8733c" stroke="#3c3c3c" stroke-width="0.8"/>
<path d="M845.3,1050.7 854.4,1045.2 861.6,1043.4 868.9,1048.8 874.3,1054.3 885.2,1048.8 899.8,1045.2 914.3,1043.4 927.0,1048.8 936.1,1052.5 934.3,1067.0 932.4,1079.7 917.9,1077.9 908.8,1077.9 892.5,1083.3 881.6,1090.6 874.3,1096.1 863.4,1097.9 856.2,1106.9 854.4,1112.4 827.1,1114.2 816.2,1112.4 810.8,1108.8 807.1,1094.2 809.0,1083.3 816.2,1077.9 827.1,1070.6 832.6,1063.4 838.0,1057.9Z" fill="#8ca1d2" stroke="#3c3c3c" stroke-width="0.8"/>
<path d="M845.3,1050.7 854.4,1045.2 861.6,1043.4 868.9,1048.8 874.3,1054.3 885.2,1048.8 887.0,1067.0 881.6,1081.5 881.6,1090.6 874.3,1096.1 863.4,1097.9 856.2,1106.9 848.9,1090.6 845.3,1076.1 841.6,1063.4Z" fill="#dba94a" stroke="#3c3c3c" stroke-width="0.8"/>
<path d="M809.0,1083.3 816.2,1077.9 827.1,1070.6 832.6,1063.4 838.0,1057.9 845.3,1050.7 841.6,1063.4 845.3,1076.1 848.9,1090.6 856.2,1106.9 854.4,1112.4 827.1,1114.2 816.2,1112.4 810.8,1108.8 807.1,1094.2Z" fill="#c8733c" stroke="#3c3c3c" stroke-width="0.8"/>
<path d="M609.7,864.6 626.7,868.8 639.4,869.8 647.9,880.4 658.5,882.6 669.1,886.8 679.6,891.0 690.2,882.6 702.9,882.6 707.2,876.2 711.4,882.6 722.0,891.0 728.4,899.5 732.6,901.6 730.5,914.3 734.7,924.9 732.6,935.5 736.8,946.1 741.1,956.7 743.2,967.3 747.4,980.0 751.7,992.7 753.8,1003.3 747.4,1005.4 741.1,1003.3 732.6,1007.6 711.4,1018.2 700.8,1026.6 690.2,1030.9 688.1,1033.0 692.4,1037.2 698.7,1047.8 702.9,1058.4 709.3,1066.9 715.7,1073.2 724.1,1081.7 730.5,1090.2 726.3,1094.4 717.8,1100.8 711.4,1111.4 709.3,1122.0 582.2,1122.0 584.3,1105.0 588.5,1094.4 592.8,1081.7 580.1,1077.5 567.4,1073.2 558.9,1066.9 554.6,1058.4 548.3,1056.3 544.1,1047.8 548.3,1039.3 552.5,1028.7 550.4,1022.4 546.2,1016.0 544.1,1009.7 548.3,1005.4 550.4,999.1 550.4,988.5 548.3,977.9 554.6,973.7 565.2,971.5 571.6,965.2 571.6,958.8 567.4,950.4 571.6,946.1 573.7,939.8 575.8,931.3 576.9,922.8 575.8,912.2 584.3,909.0 599.1,912.2 601.3,918.6 607.6,914.3 607.6,903.7 611.8,899.5 609.7,886.8 605.5,878.3Z" fill="#8ca1d2" stroke="#3c3c3c" stroke-width="0.8"/>
<path d="M609.7,864.6 626.7,868.8 639.4,869.8 647.9,880.4 658.5,882.6 669.1,886.8 679.6,891.0 690.2,882.6 702.9,882.6 707.2,876.2 711.4,882.6 722.0,891.0 728.4,899.5 732.6,903.7 730.5,914.3 728.4,918.6 711.4,918.6 702.9,922.8 690.2,920.7 679.6,924.9 669.1,929.2 660.6,924.9 656.3,920.7 654.2,918.6 645.7,914.3 639.4,910.1 635.2,916.5 626.7,914.3 618.2,905.9 611.8,899.5 609.7,886.8 605.5,878.3Z" fill="#d9ddf0" stroke="#3c3c3c" stroke-width="0.8"/>
<path d="M637.3,911.2 642.6,909.0 645.7,914.3 642.6,918.6 638.3,917.5Z" fill="#8ca1d2" stroke="#3c3c3c" stroke-width="0.8"/>
<path d="M607.6,903.7 611.8,899.5 618.2,905.9 626.7,914.3 635.2,916.5 639.4,910.1 645.7,914.3 654.2,918.6 660.6,924.9 669.1,929.2 671.2,935.5 660.6,937.6 652.1,946.1 639.4,950.4 626.7,941.9 618.2,933.4 609.7,929.2 605.5,929.2 607.6,914.3Z" fill="#e9cf98" stroke="#3c3c3c" stroke-width="0.8"/>
<path d="M671.2,929.2 679.6,924.9 690.2,920.7 702.9,922.8 711.4,918.6 728.4,918.6 730.5,914.3 734.7,924.9 732.6,935.5 736.8,946.1 741.1,956.7 743.2,967.3 747.4,980.0 749.6,988.5 736.8,986.4 722.0,988.5 711.4,992.7 709.3,984.3 707.2,975.8 698.7,971.5 688.1,963.1 690.2,950.4 686.0,937.6 671.2,935.5Z" fill="#dba94a" stroke="#3c3c3c" stroke-width="0.8"/>
<path d="M707.2,946.1 713.5,944.0 719.9,948.2 722.0,954.6 715.7,955.7 709.3,954.6Z" fill="#d9ddf0" stroke="#3c3c3c" stroke-width="0.8"/>
<path d="M711.4,992.7 722.0,988.5 736.8,986.4 749.6,988.5 751.7,1001.2 747.4,1005.4 741.1,1003.3 732.6,1007.6 711.4,1018.2 700.8,1026.6 690.2,1030.9 686.0,1022.4 694.5,1009.7 702.9,1001.2Z" fill="#e9cf98" stroke="#3c3c3c" stroke-width="0.8"/>
<path d="M690.2,982.1 709.3,984.3 711.4,992.7 702.9,1001.2 694.5,1009.7 688.1,1005.4 688.1,999.1Z" fill="#d9ddf0" stroke="#3c3c3c" stroke-width="0.8"/>
<path d="M639.4,984.3 652.1,980.0 660.6,988.5 669.1,999.1 683.9,1007.6 688.1,1005.4 694.5,1009.7 686.0,1022.4 690.2,1030.9 679.6,1030.9 669.1,1030.9 660.6,1035.1 647.9,1028.7 641.5,1022.4 637.3,1009.7 639.4,997.0Z" fill="#d9ddf0" stroke="#3c3c3c" stroke-width="0.8"/>
<path d="M597.0,1022.4 609.7,1022.4 622.4,1020.3 626.7,1013.9 637.3,1009.7 641.5,1022.4 630.9,1033.0 626.7,1043.6 622.4,1052.1 611.8,1056.3 605.5,1043.6 597.0,1039.3 592.8,1030.9Z" fill="#d9ddf0" stroke="#3c3c3c" stroke-width="0.8"/>
<path d="M601.3,954.6 609.7,954.6 618.2,958.8 622.4,967.3 618.2,980.0 611.8,992.7 605.5,988.5 601.3,980.0 599.1,967.3Z" fill="#d9ddf0" stroke="#3c3c3c" stroke-width="0.8"/>
<path d="M550.4,1033.0 561.0,1028.7 571.6,1039.3 573.7,1047.8 571.6,1054.2 563.1,1058.4 554.6,1058.4 550.4,1052.1 548.3,1043.6Z" fill="#c8733c" stroke="#3c3c3c" stroke-width="0.8"/>
<path d="M592.8,1081.7 597.0,1064.8 601.3,1047.8 605.5,1043.6 611.8,1056.3 622.4,1052.1 626.7,1043.6 633.0,1052.1 639.4,1062.6 643.6,1073.2 647.9,1090.2 647.9,1122.0 582.2,1122.0 584.3,1105.0 588.5,1094.4Z" fill="#e9cf98" stroke="#3c3c3c" stroke-width="0.8"/>
<path d="M575.8,1071.1 584.3,1073.2 592.8,1069.0 597.0,1058.4 601.3,1047.8 605.5,1043.6 597.0,1039.3 592.8,1047.8 584.3,1052.1 575.8,1056.3 573.7,1062.6Z" fill="#dba94a" stroke="#3c3c3c" stroke-width="0.8"/>
<path d="M611.8,1090.2 626.7,1085.9 639.4,1083.8 647.9,1090.2 647.9,1122.0 611.8,1122.0 616.1,1105.0Z" fill="#dba94a" stroke="#3c3c3c" stroke-width="0.8"/>
<path d="M626.7,1043.6 630.9,1033.0 641.5,1022.4 647.9,1028.7 660.6,1035.1 669.1,1030.9 679.6,1030.9 690.2,1030.9 688.1,1033.0 692.4,1037.2 698.7,1047.8 702.9,1058.4 709.3,1066.9 715.7,1073.2 724.1,1081.7 730.5,1090.2 726.3,1094.4 717.8,1100.8 711.4,1111.4 709.3,1122.0 647.9,1122.0 647.9,1090.2 643.6,1073.2 639.4,1062.6 633.0,1052.1Z" fill="#e9cf98" stroke="#3c3c3c" stroke-width="0.8"/>
<path d="M658.5,1033.0 669.1,1030.9 679.6,1030.9 690.2,1030.9 688.1,1033.0 692.4,1037.2 686.0,1043.6 675.4,1047.8 669.1,1058.4 660.6,1056.3 656.3,1045.7Z" fill="#dba94a" stroke="#3c3c3c" stroke-width="0.8"/>
<path d="M675.4,1047.8 686.0,1043.6 692.4,1037.2 698.7,1047.8 702.9,1058.4 709.3,1066.9 711.4,1073.2 700.8,1077.5 690.2,1083.8 681.8,1073.2 673.3,1064.8 669.1,1058.4Z" fill="#c8733c" stroke="#3c3c3c" stroke-width="0.8"/>
<path d="M681.8,1073.2 690.2,1083.8 700.8,1077.5 711.4,1073.2 715.7,1073.2 724.1,1081.7 730.5,1090.2 726.3,1094.4 717.8,1100.8 702.9,1096.5 690.2,1096.5 679.6,1085.9Z" fill="#dba94a" stroke="#3c3c3c" stroke-width="0.8"/>
<path d="M660.6,1083.8 679.6,1085.9 690.2,1096.5 702.9,1096.5 717.8,1100.8 711.4,1111.4 709.3,1122.0 660.6,1122.0 664.8,1105.0Z" fill="#c8733c" stroke="#3c3c3c" stroke-width="0.8"/>
<path d="M645.7,1083.8 660.6,1083.8 664.8,1105.0 660.6,1122.0 647.9,1122.0Z" fill="#dba94a" stroke="#3c3c3c" stroke-width="0.8"/>
<path d="M541.9,1039.3 548.3,1037.2 554.6,1043.6 556.8,1052.1 552.5,1058.4 546.2,1058.4 541.9,1052.1 539.8,1043.6Z" fill="#e1e1e1" stroke="#3c3c3c" stroke-width="0.8"/>
<path d="M467.8,997.0 486.8,988.5 499.6,986.4 512.3,988.5 516.5,986.4 525.0,988.5 529.2,992.7 539.8,997.0 544.1,1003.3 544.1,1009.7 546.2,1016.0 550.4,1022.4 552.5,1028.7 548.3,1037.2 541.9,1039.3 539.8,1043.6 541.9,1052.1 533.5,1054.2 525.0,1047.8 520.7,1041.5 516.5,1035.1 508.0,1039.3 503.8,1039.3 503.8,1028.7 495.3,1022.4 491.1,1013.9 482.6,1009.7 472.0,1003.3Z" fill="#d9ddf0" stroke="#3c3c3c" stroke-width="0.8"/>
<path d="M467.8,997.0 486.8,988.5 499.6,986.4 512.3,988.5 525.0,988.5 539.8,997.0 544.1,1003.3 541.9,1011.8 529.2,1011.8 516.5,1009.7 503.8,1011.8 491.1,1011.8 482.6,1009.7 472.0,1003.3Z" fill="#c8733c" stroke="#3c3c3c" stroke-width="0.8"/>
<path d="M484.7,1009.7 503.8,1011.8 514.4,1016.0 512.3,1026.6 505.9,1027.7 499.6,1022.4 493.2,1018.2Z" fill="#4f6cb0" stroke="#3c3c3c" stroke-width="0.8"/>
<path d="M539.8,999.1 544.1,1003.3 544.1,1009.7 547.2,1015.0 541.9,1013.9 539.8,1007.6Z" fill="#dba94a" stroke="#3c3c3c" stroke-width="0.8"/>
<path d="M525.0,927.1 535.6,918.6 550.4,916.5 563.1,916.5 573.7,918.6 576.9,922.8 575.8,931.3 573.7,939.8 571.6,946.1 567.4,950.4 571.6,958.8 571.6,965.2 565.2,971.5 554.6,973.7 548.3,977.9 550.4,988.5 548.3,997.0 544.1,1003.3 539.8,997.0 529.2,992.7 525.0,988.5 516.5,986.4 512.3,984.3 499.6,986.4 491.1,984.3 495.3,975.8 503.8,971.5 508.0,967.3 512.3,958.8 516.5,950.4 520.7,937.6Z" fill="#dba94a" stroke="#3c3c3c" stroke-width="0.8"/>
<path d="M520.7,937.6 525.0,927.1 535.6,918.6 550.4,916.5 558.9,918.6 556.8,933.4 546.2,939.8 535.6,941.9 529.2,954.6 527.1,967.3 516.5,975.8 505.9,973.7 503.8,971.5 508.0,967.3 512.3,958.8 516.5,950.4Z" fill="#e9cf98" stroke="#3c3c3c" stroke-width="0.8"/>
<path d="M556.8,916.5 573.7,918.6 576.9,922.8 575.8,931.3 565.2,931.3 557.8,929.2Z" fill="#d9ddf0" stroke="#3c3c3c" stroke-width="0.8"/>
<path d="M531.3,941.9 544.1,937.6 548.3,946.1 544.1,956.7 533.5,956.7 529.2,950.4Z" fill="#c8733c" stroke="#3c3c3c" stroke-width="0.8"/>
<path d="M525.0,956.7 535.6,956.7 539.8,967.3 529.2,971.5 525.0,967.3Z" fill="#c8733c" stroke="#3c3c3c" stroke-width="0.8"/>
<path d="M508.0,977.9 516.5,975.8 529.2,973.7 541.9,975.8 546.2,980.0 548.3,988.5 544.1,997.0 529.2,992.7 525.0,988.5 512.3,986.4Z" fill="#c8733c" stroke="#3c3c3c" stroke-width="0.8"/>
<path d="M601.3,819.0 626.7,819.0 630.9,835.9 626.7,848.7 628.8,861.4 626.7,868.8 609.7,864.6 607.6,852.9 603.4,840.2Z" fill="#e9cf98" stroke="#3c3c3c" stroke-width="0.8"/>
<path d="M635.2,842.3 645.7,840.2 654.2,844.4 656.3,857.1 650.0,863.5 639.4,861.4 635.2,852.9Z" fill="#e9cf98" stroke="#3c3c3c" stroke-width="0.8"/>
<path d="M660.6,835.9 673.3,827.5 686.0,831.7 690.2,844.4 683.9,859.3 673.3,857.1 664.8,848.7Z" fill="#dba94a" stroke="#3c3c3c" stroke-width="0.8"/>
<path d="M660.6,865.6 673.3,861.4 690.2,860.3 692.4,864.6 679.6,872.0 664.8,872.0Z" fill="#dba94a" stroke="#3c3c3c" stroke-width="0.8"/>
<path d="M677.5,825.4 686.0,821.1 694.5,825.4 696.6,838.1 690.2,842.3 683.9,833.8Z" fill="#e9cf98" stroke="#3c3c3c" stroke-width="0.8"/>
<path d="M736.8,852.9 741.1,848.7 747.4,854.0 745.3,859.3 739.0,858.2Z" fill="#e9cf98" stroke="#3c3c3c" stroke-width="0.8"/>
<path d="M351.8,702.0 361.8,702.0 369.8,706.0 389.7,706.0 389.7,712.0 379.7,720.0 369.8,729.9 367.8,735.9 359.8,739.9 371.8,739.9 385.7,739.9 405.7,743.9 408.7,751.9 403.7,759.9 393.7,767.9 385.7,773.9 379.7,783.9 381.7,791.9 373.8,793.9 369.8,797.9 379.7,799.9 385.7,803.9 391.7,809.8 399.7,823.8 401.7,839.8 405.7,855.8 413.7,863.8 419.7,871.8 423.7,879.8 425.7,895.7 423.7,899.7 427.7,909.7 429.7,919.7 423.7,923.7 439.7,923.7 449.7,927.7 455.7,937.7 453.7,949.7 447.7,957.7 441.7,963.7 439.7,969.7 435.7,975.6 443.7,981.6 443.7,987.6 435.7,995.6 417.7,1001.6 409.7,999.6 399.7,999.6 389.7,999.6 379.7,1003.6 369.8,999.6 359.8,995.6 353.8,997.6 341.8,999.6 329.8,1005.6 319.8,1007.6 309.8,1005.6 289.9,1007.6 281.9,1007.6 273.9,1001.6 283.9,997.6 293.9,991.6 305.8,979.6 317.8,971.7 329.8,971.7 341.8,963.7 335.8,959.7 327.8,957.7 317.8,951.7 305.8,949.7 297.8,941.7 301.8,937.7 317.8,931.7 329.8,925.7 333.8,919.7 329.8,913.7 317.8,909.7 319.8,903.7 329.8,899.7 325.8,893.7 325.8,889.7 329.8,889.7 335.8,895.7 345.8,895.7 353.8,895.7 359.8,889.7 361.8,879.8 359.8,873.8 357.8,867.8 353.8,859.8 351.8,849.8 355.8,839.8 357.8,835.8 349.8,837.8 339.8,839.8 329.8,839.8 325.8,835.8 323.8,829.8 327.8,825.8 329.8,819.8 337.8,809.8 339.8,803.9 333.8,799.9 327.8,803.9 321.8,815.8 315.8,811.8 317.8,803.9 321.8,799.9 323.8,791.9 319.8,787.9 309.8,791.9 305.8,799.9 301.8,795.9 303.8,791.9 313.8,783.9 321.8,779.9 321.8,775.9 313.8,773.9 311.8,769.9 317.8,767.9 323.8,771.9 329.8,767.9 327.8,759.9 321.8,751.9 315.8,741.9 313.8,733.9 317.8,729.9 323.8,727.9 327.8,731.9 331.8,739.9 335.8,739.9 335.8,731.9 339.8,727.9 345.8,720.0 345.8,712.0 349.8,706.0Z" fill="#e1e1e1" stroke="#3c3c3c" stroke-width="0.8"/>
<path d="M297.8,753.9 301.8,739.9 305.8,729.9 309.8,720.0 315.8,712.0 323.8,704.0 331.8,700.0 329.8,706.0 323.8,710.0 317.8,718.0 313.8,723.9 309.8,731.9 305.8,739.9 301.8,747.9Z" fill="#e1e1e1" stroke="#3c3c3c" stroke-width="0.8"/>
<path d="M325.8,857.8 331.8,851.8 335.8,853.8 331.8,861.8 326.8,863.8Z" fill="#e1e1e1"/>
<path d="M257.9,831.8 265.9,823.8 275.9,817.8 281.9,815.8 293.9,813.8 305.8,815.8 309.8,823.8 311.8,837.8 313.8,845.8 307.8,853.8 299.8,857.8 291.9,857.8 287.9,855.8 285.9,851.8 281.9,843.8 277.9,839.8 271.9,843.8 265.9,847.8 261.9,839.8Z" fill="#e1e1e1" stroke="#3c3c3c" stroke-width="0.8"/>
<path d="M247.9,821.8 255.9,811.8 269.9,807.8 281.9,807.8 287.9,811.8 279.9,815.8 269.9,823.8 261.9,827.8 257.9,833.8 261.9,841.8 267.9,847.8 273.9,843.8 279.9,841.8 283.9,847.8 287.9,853.8 291.9,857.8 293.9,859.8 291.9,869.8 291.9,881.8 289.9,891.7 285.9,899.7 281.9,905.7 277.9,915.7 273.9,923.7 261.9,923.7 245.9,925.7 229.9,929.7 210.0,931.7 198.0,929.7 194.0,925.7 190.0,919.7 188.0,911.7 194.0,907.7 190.0,901.7 200.0,899.7 206.0,895.7 213.9,889.7 211.9,883.8 219.9,877.8 213.9,871.8 210.0,863.8 208.0,855.8 211.9,851.8 213.9,843.8 217.9,831.8 229.9,829.8 237.9,831.8 247.9,829.8Z" fill="#d9ddf0" stroke="#3c3c3c" stroke-width="0.8"/>
<path d="M247.9,821.8 255.9,811.8 269.9,807.8 281.9,807.8 287.9,811.8 279.9,815.8 269.9,823.8 261.9,827.8 257.9,833.8 261.9,841.8 267.9,847.8 273.9,843.8 279.9,841.8 283.9,847.8 287.9,853.8 285.9,859.8 273.9,861.8 263.9,855.8 253.9,867.8 249.9,879.8 241.9,883.8 233.9,879.8 227.9,875.8 219.9,877.8 213.9,871.8 210.0,863.8 208.0,855.8 211.9,851.8 213.9,843.8 217.9,831.8 229.9,829.8 237.9,831.8 247.9,829.8Z" fill="#8ca1d2" stroke="#3c3c3c" stroke-width="0.8"/>
<path d="M263.9,855.8 273.9,861.8 285.9,859.8 291.9,857.8 293.9,859.8 291.9,869.8 291.9,881.8 289.9,891.7 285.9,899.7 281.9,903.7 273.9,897.7 263.9,895.7 249.9,891.7 247.9,883.8 253.9,867.8Z" fill="#e9cf98" stroke="#3c3c3c" stroke-width="0.8"/>
<path d="M405.3,1045.4 415.0,1038.1 429.5,1033.3 439.2,1028.4 444.0,1021.2 446.4,1001.8 453.7,994.5 468.2,994.5 473.1,1006.6 482.8,1011.5 492.4,1021.2 502.1,1030.8 504.6,1038.1 514.2,1035.7 516.7,1040.5 526.3,1052.6 538.5,1057.5 550.6,1057.5 557.8,1064.7 569.9,1072.0 582.0,1076.9 594.1,1079.3 591.7,1084.1 586.9,1093.8 582.0,1108.3 579.6,1125.3 577.2,1132.5 565.1,1135.0 560.2,1144.6 550.6,1154.3 540.9,1168.9 538.5,1181.0 550.6,1173.7 557.8,1173.7 560.2,1185.8 562.7,1195.5 557.8,1202.8 560.2,1212.4 562.7,1222.1 555.4,1222.1 560.2,1234.2 557.8,1246.3 569.9,1256.0 577.2,1260.9 572.3,1270.6 562.7,1277.8 550.6,1287.5 540.9,1294.8 526.3,1292.3 514.2,1285.1 502.1,1282.7 490.0,1277.8 477.9,1275.4 465.8,1273.0 458.5,1277.8 453.7,1287.5 453.7,1302.0 453.7,1309.3 439.2,1311.7 429.5,1306.9 419.8,1302.0 410.1,1302.0 405.3,1297.2 395.6,1292.3 385.9,1289.9 371.4,1289.9 361.7,1285.1 352.0,1280.2 339.9,1273.0 332.6,1265.7 327.8,1260.9 332.6,1246.3 339.9,1231.8 344.7,1217.3 349.6,1202.8 354.4,1190.7 356.9,1181.0 352.0,1173.7 352.0,1164.0 347.2,1159.2 339.9,1149.5 332.6,1139.8 332.6,1130.1 327.8,1120.4 320.5,1115.6 315.7,1110.8 308.4,1105.9 298.7,1096.2 291.5,1089.0 286.6,1081.7 289.1,1072.0 284.2,1062.3 296.3,1059.9 308.4,1057.5 323.0,1057.5 332.6,1064.7 344.7,1069.6 356.9,1069.6 361.7,1062.3 360.5,1052.6 359.3,1035.7 371.4,1035.7 373.8,1047.8 385.9,1050.2 395.6,1050.2Z" fill="#d9ddf0" stroke="#3c3c3c" stroke-width="0.8"/>
<path d="M444.0,1001.8 453.7,994.5 468.2,994.5 473.1,1006.6 482.8,1011.5 492.4,1021.2 502.1,1030.8 504.6,1038.1 492.4,1035.7 477.9,1033.3 465.8,1030.8 453.7,1026.0 444.0,1021.2Z" fill="#8ca1d2" stroke="#3c3c3c" stroke-width="0.8"/>
<path d="M487.6,1067.2 497.3,1052.6 504.6,1038.1 514.2,1035.7 516.7,1040.5 526.3,1052.6 521.5,1062.3 519.1,1081.7 526.3,1096.2 533.6,1108.3 536.0,1115.6 526.3,1125.3 514.2,1122.9 502.1,1113.2 487.6,1105.9 480.3,1093.8 482.8,1081.7Z" fill="#8ca1d2" stroke="#3c3c3c" stroke-width="0.8"/>
<path d="M284.2,1062.3 296.3,1059.9 308.4,1057.5 323.0,1057.5 332.6,1064.7 344.7,1069.6 356.9,1069.6 361.7,1062.3 360.5,1052.6 359.3,1035.7 371.4,1035.7 373.8,1047.8 385.9,1050.2 395.6,1050.2 405.3,1047.8 410.1,1050.2 417.4,1074.4 419.8,1089.0 415.0,1108.3 405.3,1115.6 398.0,1125.3 393.2,1130.1 373.8,1135.0 371.4,1149.5 364.1,1156.8 356.9,1154.3 352.0,1149.5 347.2,1144.6 339.9,1139.8 335.1,1132.5 332.6,1125.3 327.8,1120.4 320.5,1115.6 315.7,1110.8 308.4,1105.9 298.7,1096.2 291.5,1089.0 286.6,1081.7 289.1,1072.0Z" fill="#e9cf98" stroke="#3c3c3c" stroke-width="0.8"/>
<path d="M480.3,1178.5 490.0,1171.3 502.1,1173.7 511.8,1168.9 521.5,1173.7 528.8,1176.1 538.5,1181.0 550.6,1173.7 557.8,1173.7 560.2,1185.8 562.7,1195.5 557.8,1202.8 560.2,1212.4 562.7,1222.1 555.4,1222.1 550.6,1224.6 543.3,1231.8 526.3,1236.7 521.5,1246.3 516.7,1251.2 507.0,1246.3 497.3,1246.3 487.6,1241.5 482.8,1231.8 487.6,1227.0 494.9,1212.4 482.8,1197.9 480.3,1188.2Z" fill="#e9cf98" stroke="#3c3c3c" stroke-width="0.8"/>
<path d="M526.3,1236.7 543.3,1231.8 550.6,1224.6 555.4,1222.1 560.2,1234.2 557.8,1246.3 569.9,1256.0 577.2,1260.9 572.3,1270.6 562.7,1277.8 550.6,1287.5 540.9,1294.8 526.3,1292.3 514.2,1285.1 502.1,1282.7 490.0,1277.8 487.6,1270.6 497.3,1265.7 499.7,1256.0 507.0,1246.3 516.7,1251.2 521.5,1246.3Z" fill="#8ca1d2" stroke="#3c3c3c" stroke-width="0.8"/>
<path d="M458.5,1222.1 470.7,1222.1 480.3,1229.4 487.6,1241.5 502.1,1246.3 499.7,1258.5 497.3,1265.7 487.6,1270.6 490.0,1277.8 477.9,1275.4 465.8,1273.0 458.5,1277.8 453.7,1287.5 453.7,1309.3 439.2,1311.7 429.5,1306.9 422.2,1302.0 424.6,1289.9 419.8,1275.4 434.3,1270.6 444.0,1265.7 453.7,1258.5 463.4,1248.8 465.8,1236.7Z" fill="#8ca1d2" stroke="#3c3c3c" stroke-width="0.8"/>
<path d="M599.7,1321.4 607.3,1316.3 617.5,1311.2 622.6,1301.0 625.1,1306.1 626.4,1321.4 625.1,1336.6 620.0,1351.9 614.9,1357.0 609.8,1351.9 604.8,1341.7 602.2,1331.5Z" fill="#8ca1d2" stroke="#3c3c3c" stroke-width="0.8"/>
<path d="M540.9,1168.9 550.6,1154.3 560.2,1144.6 565.1,1135.0 577.2,1132.5 586.9,1130.1 599.0,1127.7 603.8,1125.3 611.1,1127.7 623.2,1130.1 628.0,1135.0 628.0,1144.6 637.7,1149.5 647.4,1154.3 649.8,1159.2 647.4,1168.9 640.1,1171.3 637.7,1178.5 628.0,1178.5 620.8,1181.0 615.9,1188.2 613.5,1195.5 606.2,1190.7 601.4,1178.5 594.1,1173.7 586.9,1183.4 574.8,1190.7 562.7,1193.1 560.2,1185.8 557.8,1173.7 550.6,1173.7 538.5,1181.0Z" fill="#d9ddf0" stroke="#3c3c3c" stroke-width="0.8"/>
<path d="M584.5,1144.6 599.0,1142.2 611.1,1147.1 613.5,1159.2 603.8,1168.9 594.1,1166.4 586.9,1159.2Z" fill="#c8733c" stroke="#3c3c3c" stroke-width="0.8"/>
<path d="M599.0,1132.5 611.1,1130.1 613.5,1144.6 603.8,1147.1 599.0,1142.2Z" fill="#dba94a" stroke="#3c3c3c" stroke-width="0.8"/>
<path d="M611.1,1135.0 623.2,1130.1 628.0,1135.0 628.0,1144.6 637.7,1149.5 647.4,1154.3 649.8,1159.2 647.4,1168.9 640.1,1171.3 637.7,1178.5 628.0,1178.5 620.8,1181.0 615.9,1171.3 613.5,1159.2 611.1,1147.1Z" fill="#e9cf98" stroke="#3c3c3c" stroke-width="0.8"/>
<path d="M560.2,1173.7 574.8,1171.3 594.1,1173.7 586.9,1183.4 574.8,1190.7 562.7,1193.1 560.2,1185.8Z" fill="#e9cf98" stroke="#3c3c3c" stroke-width="0.8"/>
<path d="M601.4,1173.7 611.1,1171.3 618.4,1178.5 615.9,1188.2 613.5,1195.5 606.2,1190.7 601.4,1178.5Z" fill="#8ca1d2" stroke="#3c3c3c" stroke-width="0.8"/>
<path d="M136.3,1560.1 143.9,1541.0 156.6,1525.8 166.8,1510.5 179.5,1510.5 187.1,1525.8 192.2,1536.0 202.4,1543.6 217.6,1546.1 238.0,1546.1 253.2,1543.6 268.5,1541.0 288.8,1536.0 304.1,1530.9 324.4,1528.3 339.7,1525.8 352.4,1523.2 365.1,1520.7 380.4,1518.2 395.6,1515.6 416.0,1515.6 436.3,1513.1 456.6,1510.5 480.0,1510.5 485.3,1514.6 500.5,1519.7 515.8,1514.6 531.0,1512.1 546.3,1514.6 566.6,1514.6 581.9,1509.5 597.1,1509.5 612.4,1507.0 627.6,1504.4 642.9,1504.4 653.1,1509.5 668.3,1514.6 673.4,1522.2 668.3,1532.4 660.7,1540.0 655.6,1550.2 658.2,1560.4 668.3,1570.5 673.4,1583.0 670.0,1583.0 77.0,1583.0 100.0,1577.0 125.0,1568.0Z" fill="#e1e1e1"/>
<path d="M128.6,1230.9 141.4,1225.8 156.6,1225.8 161.7,1218.1 171.9,1215.6 182.0,1220.7 189.7,1228.3 202.4,1230.9 217.6,1233.4 232.9,1238.5 248.2,1246.1 258.3,1248.6 271.0,1248.6 281.2,1251.2 288.8,1253.7 299.0,1256.3 314.3,1258.8 327.0,1261.4 334.6,1266.4 344.8,1276.6 354.9,1281.7 365.1,1286.8 375.3,1291.9 388.0,1289.3 398.2,1297.0 410.9,1299.5 416.0,1304.6 428.7,1307.1 441.4,1309.7 454.1,1310.9 456.6,1322.4 451.6,1332.6 438.8,1337.6 426.1,1342.7 410.9,1347.8 398.2,1352.9 385.5,1355.4 375.3,1363.1 370.2,1370.7 362.6,1380.9 354.9,1388.5 349.9,1401.2 352.4,1416.5 360.0,1434.3 349.9,1439.3 339.7,1444.4 329.5,1459.7 327.0,1469.9 314.3,1474.9 304.1,1474.9 293.9,1480.0 283.7,1495.3 276.1,1497.8 263.4,1495.3 248.2,1492.7 232.9,1487.7 217.6,1490.2 207.5,1492.7 197.3,1490.2 187.1,1495.3 179.5,1502.9 171.9,1497.8 164.2,1490.2 159.2,1480.0 156.6,1472.4 151.5,1462.2 143.9,1454.6 133.7,1452.1 123.6,1454.6 110.9,1452.1 98.1,1447.0 88.0,1447.0 93.1,1439.3 98.1,1434.3 98.1,1421.5 95.6,1401.2 93.1,1393.6 90.5,1383.4 88.0,1378.3 93.1,1373.2 95.6,1363.1 100.7,1355.4 105.8,1345.3 110.9,1332.6 118.5,1322.4 126.1,1312.2 128.6,1299.5 128.6,1271.5 131.2,1266.4 133.7,1256.3 131.2,1243.6Z" fill="#d9ddf0" stroke="#3c3c3c" stroke-width="0.8"/>
<path d="M128.6,1271.5 149.0,1269.0 151.5,1279.2 166.8,1284.2 177.0,1281.7 189.7,1284.2 192.2,1294.4 199.8,1302.0 192.2,1309.7 179.5,1317.3 166.8,1317.3 156.6,1319.8 146.4,1314.8 136.3,1314.8 126.1,1312.2 128.6,1299.5Z" fill="#8ca1d2" stroke="#3c3c3c" stroke-width="0.8"/>
<path d="M126.1,1312.2 136.3,1314.8 146.4,1314.8 156.6,1319.8 166.8,1317.3 179.5,1317.3 177.0,1324.9 174.4,1340.2 166.8,1347.8 161.7,1358.0 151.5,1363.1 149.0,1368.2 154.1,1383.4 156.6,1393.6 149.0,1401.2 146.4,1408.8 151.5,1419.0 143.9,1424.1 136.3,1434.3 133.7,1439.3 118.5,1439.3 105.8,1439.3 98.1,1434.3 98.1,1421.5 95.6,1401.2 93.1,1393.6 90.5,1383.4 88.0,1378.3 93.1,1373.2 95.6,1363.1 100.7,1355.4 105.8,1345.3 110.9,1332.6 118.5,1322.4Z" fill="#e9cf98" stroke="#3c3c3c" stroke-width="0.8"/>
<path d="M88.0,1378.3 93.1,1373.2 100.7,1375.8 108.3,1380.9 113.4,1388.5 105.8,1393.6 95.6,1393.6 90.5,1383.4Z" fill="#dba94a" stroke="#3c3c3c" stroke-width="0.8"/>
<path d="M88.0,1447.0 93.1,1439.3 105.8,1439.3 118.5,1439.3 133.7,1439.3 133.7,1452.1 123.6,1454.6 110.9,1452.1 98.1,1447.0Z" fill="#8ca1d2" stroke="#3c3c3c" stroke-width="0.8"/>
<path d="M128.6,1230.9 141.4,1225.8 156.6,1225.8 161.7,1218.1 171.9,1215.6 182.0,1220.7 189.7,1228.3 202.4,1230.9 217.6,1233.4 232.9,1238.5 248.2,1246.1 253.2,1251.2 238.0,1253.7 217.6,1253.7 202.4,1253.7 189.7,1253.7 189.7,1256.3 184.6,1266.4 182.0,1281.7 177.0,1281.7 166.8,1284.2 151.5,1279.2 149.0,1269.0 131.2,1274.1 128.6,1271.5 133.7,1256.3 131.2,1243.6Z" fill="#8ca1d2" stroke="#3c3c3c" stroke-width="0.8"/>
<path d="M248.2,1246.1 258.3,1248.6 271.0,1248.6 281.2,1251.2 288.8,1253.7 283.7,1258.8 273.6,1261.4 265.9,1269.0 260.9,1263.9 258.3,1256.3 253.2,1251.2Z" fill="#e9cf98" stroke="#3c3c3c" stroke-width="0.8"/>
<path d="M288.8,1253.7 299.0,1256.3 314.3,1258.8 327.0,1261.4 334.6,1266.4 344.8,1276.6 349.9,1284.2 334.6,1291.9 327.0,1307.1 324.4,1314.8 319.3,1309.7 314.3,1302.0 309.2,1286.8 311.7,1279.2 299.0,1281.7 288.8,1276.6 286.3,1263.9Z" fill="#dba94a" stroke="#3c3c3c" stroke-width="0.8"/>
<path d="M288.8,1281.7 299.0,1281.7 311.7,1279.2 309.2,1286.8 314.3,1302.0 304.1,1304.6 293.9,1302.0 286.3,1294.4Z" fill="#d9ddf0" stroke="#3c3c3c" stroke-width="0.8"/>
<path d="M314.3,1322.4 316.8,1312.2 324.4,1314.8 327.0,1307.1 334.6,1291.9 349.9,1284.2 354.9,1281.7 365.1,1286.8 375.3,1291.9 388.0,1289.3 385.5,1307.1 377.8,1327.5 375.3,1337.6 372.7,1352.9 370.2,1363.1 354.9,1365.6 344.8,1375.8 334.6,1385.9 327.0,1378.3 314.3,1368.2 314.3,1355.4 319.3,1347.8 311.7,1337.6 306.6,1332.6Z" fill="#e9cf98" stroke="#3c3c3c" stroke-width="0.8"/>
<path d="M334.6,1385.9 344.8,1375.8 354.9,1365.6 370.2,1363.1 375.3,1363.1 370.2,1370.7 362.6,1380.9 354.9,1388.5 349.9,1401.2 352.4,1416.5 360.0,1434.3 349.9,1439.3 339.7,1444.4 329.5,1459.7 324.4,1459.7 321.9,1444.4 327.0,1429.2 319.3,1419.0 314.3,1401.2Z" fill="#8ca1d2" stroke="#3c3c3c" stroke-width="0.8"/>
<path d="M212.6,1360.5 238.0,1355.4 243.1,1368.2 253.2,1373.2 263.4,1373.2 273.6,1368.2 273.6,1345.3 268.5,1332.6 283.7,1330.0 293.9,1335.1 306.6,1332.6 311.7,1337.6 319.3,1347.8 314.3,1355.4 314.3,1368.2 327.0,1378.3 334.6,1385.9 314.3,1401.2 319.3,1419.0 327.0,1429.2 321.9,1444.4 324.4,1459.7 329.5,1459.7 327.0,1469.9 314.3,1474.9 304.1,1474.9 293.9,1480.0 283.7,1495.3 276.1,1497.8 263.4,1495.3 248.2,1492.7 232.9,1487.7 217.6,1490.2 207.5,1492.7 197.3,1490.2 187.1,1495.3 179.5,1502.9 171.9,1497.8 164.2,1490.2 159.2,1480.0 156.6,1472.4 151.5,1462.2 143.9,1454.6 133.7,1452.1 136.3,1434.3 143.9,1424.1 151.5,1419.0 146.4,1408.8 149.0,1401.2 156.6,1393.6 154.1,1383.4 149.0,1368.2 151.5,1363.1 161.7,1358.0 166.8,1347.8 174.4,1340.2 179.5,1345.3 192.2,1345.3 202.4,1352.9Z" fill="#4f6cb0" stroke="#3c3c3c" stroke-width="0.8"/>
<path d="M423.6,1413.9 436.3,1403.7 446.5,1401.2 454.1,1408.8 451.6,1419.0 441.4,1424.1 431.2,1419.0Z" fill="#d9ddf0" stroke="#3c3c3c" stroke-width="0.8"/>
<path d="M466.8,1398.7 477.0,1401.2 478.3,1406.3 469.4,1406.3Z" fill="#d9ddf0" stroke="#3c3c3c" stroke-width="0.8"/>
<path d="M388.0,1431.7 395.6,1426.6 400.7,1429.2 398.2,1434.3 390.5,1434.3Z" fill="#d9ddf0" stroke="#3c3c3c" stroke-width="0.8"/>
<path d="M551.8,1219.8 558.1,1215.6 562.4,1207.1 560.3,1194.4 562.4,1190.2 570.8,1188.1 579.3,1185.9 587.8,1179.6 596.3,1173.2 600.5,1175.3 604.7,1183.8 609.0,1192.3 613.2,1194.4 615.3,1185.9 619.6,1175.3 623.8,1173.2 630.2,1177.5 640.8,1179.6 638.6,1175.3 642.9,1169.0 649.2,1164.7 651.4,1156.3 657.7,1156.3 668.3,1154.2 676.8,1152.0 685.3,1149.9 693.7,1152.0 695.8,1156.3 702.2,1162.6 710.7,1164.7 721.3,1166.9 731.9,1166.9 731.9,1173.2 729.7,1185.9 731.9,1198.6 736.1,1207.1 727.6,1202.9 719.2,1200.8 706.4,1205.0 700.1,1211.4 698.0,1219.8 702.2,1228.3 700.1,1241.0 702.2,1253.7 710.7,1262.2 721.3,1270.7 731.9,1283.4 738.2,1294.0 744.6,1304.6 744.6,1301.0 754.8,1313.7 767.5,1326.4 782.7,1331.5 795.5,1329.0 805.6,1331.5 800.5,1336.6 795.5,1341.7 805.6,1346.8 820.9,1354.4 831.0,1359.5 846.3,1367.1 861.6,1374.8 871.7,1382.4 876.8,1392.6 871.7,1400.2 866.6,1392.6 853.9,1384.9 841.2,1382.4 831.0,1387.5 823.4,1392.6 826.0,1405.3 831.0,1415.4 841.2,1418.0 843.8,1430.7 836.1,1435.8 826.0,1443.4 828.5,1453.6 820.9,1468.8 810.7,1473.9 803.1,1473.9 800.5,1463.7 805.6,1453.6 810.7,1443.4 803.1,1430.7 805.6,1418.0 800.5,1405.3 790.4,1402.7 785.3,1397.6 775.1,1387.5 759.9,1382.4 749.7,1372.2 744.6,1364.6 734.4,1359.5 721.7,1357.0 711.5,1346.8 698.8,1336.6 686.1,1326.4 678.5,1318.8 673.4,1316.3 663.2,1306.1 653.1,1295.9 648.0,1278.1 635.3,1255.3 625.9,1249.5 615.3,1243.1 604.7,1241.0 592.0,1245.3 581.4,1251.6 575.1,1258.0 570.8,1262.2 562.4,1255.8 558.1,1245.3 556.0,1232.5Z" fill="#dba94a" stroke="#3c3c3c" stroke-width="0.8"/>
<path d="M560.3,1194.4 570.8,1190.2 579.3,1188.1 585.7,1198.6 579.3,1205.0 568.7,1207.1 562.4,1207.1Z" fill="#c8733c" stroke="#3c3c3c" stroke-width="0.8"/>
<path d="M556.0,1232.5 558.1,1245.3 562.4,1255.8 570.8,1262.2 575.1,1258.0 581.4,1251.6 592.0,1245.3 604.7,1241.0 615.3,1243.1 625.9,1249.5 634.4,1255.8 638.6,1260.1 630.2,1249.5 621.7,1241.0 609.0,1236.8 600.5,1238.9 587.8,1241.0 577.2,1247.4 568.7,1247.4 562.4,1241.0Z" fill="#8ca1d2" stroke="#3c3c3c" stroke-width="0.8"/>
<path d="M651.4,1164.7 657.7,1160.5 668.3,1156.3 676.8,1154.2 685.3,1152.0 693.7,1154.2 698.0,1160.5 689.5,1169.0 687.4,1177.5 681.0,1190.2 672.5,1198.6 664.1,1200.8 655.6,1194.4 653.5,1185.9 651.4,1175.3Z" fill="#c8733c" stroke="#3c3c3c" stroke-width="0.8"/>
<path d="M621.7,1224.1 630.2,1221.9 638.6,1226.2 651.4,1228.3 668.3,1228.3 681.0,1226.2 693.7,1226.2 700.1,1228.3 702.2,1238.9 700.1,1249.5 702.2,1253.7 710.7,1262.2 721.3,1270.7 731.9,1283.4 738.2,1294.0 744.6,1304.6 744.6,1301.0 729.3,1311.2 714.1,1308.6 698.8,1311.2 688.7,1306.1 678.5,1306.1 673.4,1316.3 663.2,1306.1 653.1,1295.9 648.0,1278.1 635.3,1255.3 638.6,1260.1 634.4,1255.8 630.2,1249.5 623.8,1236.8Z" fill="#c8733c" stroke="#3c3c3c" stroke-width="0.8"/>
<path d="M673.4,1316.3 678.5,1306.1 688.7,1306.1 698.8,1311.2 714.1,1308.6 729.3,1311.2 721.7,1321.4 724.3,1331.5 739.5,1341.7 747.1,1351.9 744.6,1359.5 734.4,1359.5 721.7,1357.0 711.5,1346.8 698.8,1336.6 686.1,1326.4 678.5,1318.8Z" fill="#8ca1d2" stroke="#3c3c3c" stroke-width="0.8"/>
<path d="M729.3,1311.2 744.6,1301.0 754.8,1313.7 767.5,1326.4 782.7,1331.5 795.5,1329.0 805.6,1331.5 800.5,1336.6 795.5,1341.7 805.6,1346.8 820.9,1354.4 831.0,1359.5 846.3,1367.1 861.6,1374.8 871.7,1382.4 876.8,1392.6 871.7,1400.2 866.6,1392.6 853.9,1384.9 841.2,1382.4 831.0,1387.5 823.4,1392.6 826.0,1405.3 831.0,1415.4 841.2,1418.0 843.8,1430.7 836.1,1435.8 826.0,1443.4 828.5,1453.6 820.9,1468.8 810.7,1473.9 803.1,1473.9 800.5,1463.7 805.6,1453.6 810.7,1443.4 803.1,1430.7 805.6,1418.0 800.5,1405.3 790.4,1402.7 785.3,1397.6 775.1,1387.5 759.9,1382.4 749.7,1372.2 744.6,1364.6 747.1,1351.9 739.5,1341.7 724.3,1331.5 721.7,1321.4Z" fill="#4f6cb0" stroke="#3c3c3c" stroke-width="0.8"/>
<path d="M589.5,1372.2 592.0,1367.1 599.7,1364.6 612.4,1362.0 622.6,1364.6 627.6,1372.2 632.7,1387.5 630.2,1402.7 630.2,1418.0 627.6,1435.8 622.6,1438.3 612.4,1440.9 602.2,1445.9 597.1,1440.9 594.6,1433.2 594.6,1418.0 594.6,1402.7 592.0,1390.0 588.2,1379.8Z" fill="#4f6cb0" stroke="#3c3c3c" stroke-width="0.8"/>
<path d="M709.0,1479.0 721.7,1473.9 734.4,1471.4 749.7,1473.9 764.9,1471.4 780.2,1468.8 798.0,1465.0 792.9,1481.5 787.8,1494.3 790.4,1507.0 792.9,1514.6 787.8,1522.2 775.1,1519.7 762.4,1514.6 749.7,1509.5 734.4,1504.4 721.7,1496.8 714.1,1489.2Z" fill="#4f6cb0" stroke="#3c3c3c" stroke-width="0.8"/>
<path d="M695.8,1521.0 698.8,1519.7 700.9,1522.7 697.6,1524.8Z" fill="#4f6cb0" stroke="#3c3c3c" stroke-width="0.8"/>
<path d="M642.9,1306.6 648.0,1304.8 651.0,1306.6 648.0,1308.6Z" fill="#c8733c" stroke="#3c3c3c" stroke-width="0.8"/>
<path d="M628.1,1133.0 638.6,1135.1 647.1,1137.2 655.6,1135.1 668.3,1133.0 681.0,1130.8 693.7,1128.7 702.2,1128.7 708.6,1130.8 712.8,1133.0 710.7,1122.4 708.6,1111.8 710.7,1105.4 719.2,1101.2 723.4,1096.9 727.6,1094.8 729.7,1088.5 731.9,1084.2 742.5,1086.4 753.1,1084.2 757.3,1080.0 700.0,1054.3 710.9,1067.0 721.8,1079.7 732.7,1090.6 745.4,1090.6 754.5,1087.0 758.1,1077.9 772.6,1079.7 783.5,1081.5 794.4,1083.3 805.3,1083.3 809.0,1083.3 807.1,1094.2 810.8,1108.8 810.3,1092.7 812.4,1105.4 801.8,1122.4 797.5,1135.1 795.4,1147.8 793.3,1154.2 784.8,1158.4 774.2,1162.6 763.6,1164.7 753.1,1169.0 742.5,1166.9 731.9,1166.9 721.3,1166.9 710.7,1164.7 702.2,1162.6 695.8,1156.3 693.7,1152.0 685.3,1149.9 676.8,1152.0 668.3,1154.2 657.7,1156.3 651.4,1156.3 649.2,1164.7 647.1,1160.5 642.9,1154.2 634.4,1149.9 630.2,1143.6Z" fill="#dba94a" stroke="#3c3c3c" stroke-width="0.8"/>
<path d="M629.1,1134.0 638.6,1135.1 642.9,1139.3 642.9,1152.0 640.8,1156.3 634.4,1152.0 630.2,1143.6Z" fill="#d9ddf0" stroke="#3c3c3c" stroke-width="0.8"/>
<path d="M638.6,1135.1 647.1,1137.2 655.6,1135.1 668.3,1133.0 681.0,1130.8 693.7,1128.7 702.2,1128.7 704.3,1135.1 693.7,1143.6 691.6,1147.8 685.3,1149.9 676.8,1152.0 668.3,1154.2 657.7,1156.3 651.4,1156.3 647.1,1160.5 642.9,1154.2 642.9,1139.3Z" fill="#e9cf98" stroke="#3c3c3c" stroke-width="0.8"/>
<path d="M704.3,1135.1 710.7,1122.4 708.6,1111.8 710.7,1105.4 719.2,1101.2 723.4,1096.9 727.6,1094.8 729.7,1088.5 731.9,1084.2 742.5,1086.4 753.1,1084.2 757.3,1080.0 700.0,1054.3 710.9,1067.0 721.8,1079.7 732.7,1090.6 745.4,1090.6 747.2,1097.9 736.3,1103.3 753.1,1109.7 753.1,1118.1 742.5,1122.4 731.9,1124.5 729.7,1135.1 734.0,1143.6 727.6,1149.9 710.7,1149.9 700.1,1149.9 693.7,1143.6Z" fill="#c8733c" stroke="#3c3c3c" stroke-width="0.8"/>
<path d="M693.7,1149.9 706.4,1147.8 710.7,1156.3 706.4,1162.6 700.1,1160.5Z" fill="#e9cf98" stroke="#3c3c3c" stroke-width="0.8"/>
<path d="M731.9,1166.9 742.5,1166.9 753.1,1169.0 763.6,1164.7 774.2,1162.6 784.8,1158.4 793.3,1154.2 795.4,1147.8 784.8,1147.8 774.2,1149.9 757.3,1149.9 742.5,1152.0 731.9,1156.3 727.6,1162.6Z" fill="#c8733c" stroke="#3c3c3c" stroke-width="0.8"/>
<path d="M729.7,1171.1 731.9,1166.9 742.5,1166.9 753.1,1169.0 761.5,1181.7 759.4,1194.4 748.8,1198.6 744.6,1198.6 736.1,1207.1 731.9,1198.6 729.7,1185.9Z" fill="#c8733c" stroke="#3c3c3c" stroke-width="0.8"/>
<path d="M753.1,1169.0 763.6,1164.7 774.2,1162.6 784.8,1158.4 795.4,1154.2 793.3,1164.7 784.8,1171.1 780.6,1181.7 774.2,1190.2 772.1,1202.9 759.4,1202.9 748.8,1198.6 759.4,1194.4 761.5,1181.7Z" fill="#dba94a" stroke="#3c3c3c" stroke-width="0.8"/>
<path d="M796.3,1154.4 798.7,1139.9 803.6,1127.8 808.4,1115.7 815.7,1110.8 832.6,1115.7 852.0,1113.3 856.9,1103.6 869.0,1098.7 888.3,1086.6 905.3,1079.4 915.0,1074.5 929.5,1076.9 934.3,1079.4 948.9,1086.6 944.0,1101.2 936.8,1113.3 931.9,1130.2 927.1,1139.9 919.8,1152.0 910.1,1159.3 900.4,1164.1 890.8,1169.0 876.2,1171.4 866.5,1176.2 861.7,1181.1 854.4,1183.5 832.6,1183.5 823.0,1181.1 813.3,1173.8 803.6,1164.1Z" fill="#8ca1d2" stroke="#3c3c3c" stroke-width="0.8"/>
<path d="M796.3,1154.4 798.7,1139.9 803.6,1127.8 808.4,1115.7 815.7,1110.8 832.6,1115.7 852.0,1113.3 856.9,1123.0 861.7,1132.6 859.3,1144.7 852.0,1147.2 839.9,1152.0 823.0,1149.6 815.7,1161.7 806.0,1166.5 803.6,1164.1Z" fill="#c8733c" stroke="#3c3c3c" stroke-width="0.8"/>
<path d="M852.0,1113.3 856.9,1103.6 869.0,1098.7 881.1,1103.6 885.9,1115.7 890.8,1127.8 885.9,1137.5 873.8,1139.9 861.7,1132.6 856.9,1123.0Z" fill="#dba94a" stroke="#3c3c3c" stroke-width="0.8"/>
<path d="M859.3,1119.3 864.1,1116.2 869.0,1119.3 867.7,1124.9 861.7,1125.4Z" fill="#c8733c" stroke="#3c3c3c" stroke-width="0.8"/>
<path d="M861.7,1132.6 873.8,1139.9 885.9,1137.5 890.8,1139.9 895.6,1137.5 910.1,1132.6 917.4,1125.4 927.1,1139.9 919.8,1152.0 910.1,1159.3 900.4,1164.1 890.8,1169.0 876.2,1171.4 866.5,1176.2 864.1,1161.7 859.3,1144.7Z" fill="#e9cf98" stroke="#3c3c3c" stroke-width="0.8"/>
<path d="M795.4,1155.6 803.6,1164.1 813.3,1173.8 823.0,1181.1 832.6,1183.5 854.4,1183.5 861.7,1181.1 866.5,1176.2 871.4,1185.9 873.8,1200.4 878.6,1205.3 876.2,1210.1 869.0,1215.0 861.7,1210.1 852.0,1212.5 832.6,1210.1 818.1,1210.1 798.7,1212.5 789.1,1212.5 789.1,1224.6 796.3,1234.3 798.7,1248.9 808.4,1253.7 820.5,1261.0 832.6,1273.1 842.3,1285.2 849.6,1292.4 861.7,1299.7 866.5,1302.1 869.0,1309.4 856.9,1302.1 844.7,1292.4 832.6,1285.2 820.5,1277.9 808.4,1270.7 796.3,1263.4 784.2,1253.7 774.5,1244.0 767.3,1234.3 760.0,1224.6 750.3,1227.1 743.1,1229.5 736.0,1215.0 736.0,1207.2 744.7,1198.7 748.9,1198.7 759.5,1203.1 772.1,1203.1 774.0,1190.0 780.6,1181.8 784.9,1171.1 793.2,1164.8Z" fill="#d9ddf0" stroke="#3c3c3c" stroke-width="0.8"/>
<path d="M774.0,1190.0 784.2,1185.9 803.6,1195.6 823.0,1181.1 832.6,1183.5 854.4,1183.5 861.7,1181.1 866.5,1176.2 871.4,1185.9 873.8,1200.4 878.6,1205.3 876.2,1210.1 869.0,1215.0 861.7,1210.1 852.0,1212.5 832.6,1210.1 818.1,1210.1 798.7,1212.5 789.1,1212.5 774.5,1210.1 764.8,1205.3 772.1,1203.1Z" fill="#8ca1d2" stroke="#3c3c3c" stroke-width="0.8"/>
<path d="M780.6,1181.8 784.9,1171.1 793.2,1164.8 796.3,1156.9 803.6,1164.1 813.3,1173.8 823.0,1181.1 803.6,1195.6 784.2,1185.9Z" fill="#e9cf98" stroke="#3c3c3c" stroke-width="0.8"/>
<path d="M786.6,1185.9 791.5,1181.1 796.3,1185.9 793.9,1193.2 787.8,1193.2Z" fill="#c8733c" stroke="#3c3c3c" stroke-width="0.8"/>
<path d="M789.1,1212.5 798.7,1212.5 818.1,1210.1 832.6,1210.1 852.0,1212.5 861.7,1210.1 869.0,1215.0 876.2,1210.1 878.6,1217.4 878.6,1229.5 881.1,1239.2 888.3,1244.0 885.9,1253.7 888.3,1263.4 878.6,1265.8 873.8,1273.1 869.0,1282.8 866.5,1292.4 866.5,1302.1 861.7,1299.7 849.6,1292.4 842.3,1285.2 832.6,1273.1 820.5,1261.0 808.4,1253.7 798.7,1248.9 796.3,1234.3 789.1,1224.6Z" fill="#e1e1e1" stroke="#3c3c3c" stroke-width="0.8"/>
<path d="M864.1,1181.1 876.2,1171.4 890.8,1169.0 900.4,1164.1 910.1,1173.8 915.0,1183.5 919.8,1195.6 931.9,1202.9 939.2,1210.1 951.3,1212.5 961.0,1210.1 968.2,1217.4 965.8,1229.5 968.2,1239.2 973.1,1253.7 982.8,1263.4 977.9,1273.1 973.1,1282.8 975.5,1294.9 970.7,1297.3 953.7,1299.7 944.0,1302.1 934.3,1307.0 929.5,1311.8 927.1,1309.4 915.0,1287.6 910.1,1282.8 895.6,1275.5 888.3,1268.2 888.3,1263.4 885.9,1253.7 888.3,1244.0 881.1,1239.2 878.6,1229.5 878.6,1217.4 876.2,1210.1 878.6,1205.3 873.8,1200.4 871.4,1185.9Z" fill="#e1e1e1" stroke="#3c3c3c" stroke-width="0.8"/>
<path d="M866.5,1302.1 866.5,1292.4 869.0,1282.8 873.8,1273.1 878.6,1265.8 888.3,1268.2 895.6,1275.5 910.1,1282.8 915.0,1287.6 905.3,1292.4 900.4,1299.7 895.6,1307.0 893.2,1316.7 885.9,1311.8 876.2,1307.0 869.0,1307.0Z" fill="#e1e1e1" stroke="#3c3c3c" stroke-width="0.8"/>
<path d="M893.2,1316.7 895.6,1307.0 900.4,1299.7 905.3,1292.4 915.0,1297.3 919.8,1302.1 924.6,1314.2 929.5,1326.3 931.9,1340.9 939.2,1350.6 944.0,1360.2 944.0,1369.9 936.8,1374.8 934.3,1384.5 927.1,1391.7 924.6,1400.0 915.0,1400.0 910.1,1389.3 900.4,1379.6 898.0,1369.9 900.4,1357.8 898.0,1345.7 900.4,1331.2 895.6,1323.9Z" fill="#7f7f7f" stroke="#3c3c3c" stroke-width="0.8"/>
<path d="M899.4,1341.7 909.1,1345.5 918.7,1351.4 926.5,1355.2 934.2,1351.4 942.0,1357.2 943.9,1363.0 940.0,1372.7 938.1,1382.3 930.4,1394.0 924.6,1401.7 920.7,1395.9 912.9,1388.2 903.2,1378.5 897.4,1366.9 899.4,1355.2Z" fill="#7f7f7f" stroke="#3c3c3c" stroke-width="0.8"/>
<path d="M929.5,1311.8 934.3,1307.0 944.0,1302.1 953.7,1299.7 970.7,1297.3 982.8,1302.1 992.4,1311.8 994.9,1321.5 992.4,1326.3 977.9,1333.6 968.2,1343.3 961.0,1348.1 946.4,1353.0 939.2,1350.6 931.9,1340.9 929.5,1326.3 927.1,1316.7Z" fill="#e1e1e1" stroke="#3c3c3c" stroke-width="0.8"/>
<path d="M934.3,1079.4 948.9,1086.6 961.0,1084.2 977.9,1084.2 992.4,1084.2 1007.0,1081.8 1021.5,1074.5 1036.0,1064.8 1045.7,1060.0 1055.4,1067.3 1069.9,1079.4 1084.5,1098.7 1091.7,1113.3 1094.1,1132.6 1099.0,1147.2 1108.7,1154.4 1118.4,1149.6 1128.0,1147.2 1137.7,1149.6 1140.1,1161.7 1137.7,1173.8 1128.0,1181.1 1123.2,1195.6 1123.2,1211.3 1103.8,1210.1 1089.3,1207.7 1074.8,1210.1 1062.7,1217.4 1050.6,1227.1 1038.5,1234.3 1026.3,1231.9 1014.2,1234.3 1002.1,1236.8 987.6,1234.3 977.9,1229.5 970.7,1224.6 968.2,1217.4 961.0,1210.1 951.3,1212.5 939.2,1210.1 931.9,1202.9 919.8,1195.6 915.0,1183.5 910.1,1173.8 900.4,1164.1 910.1,1159.3 919.8,1152.0 927.1,1139.9 931.9,1130.2 936.8,1113.3 944.0,1101.2Z" fill="#4f6cb0" stroke="#3c3c3c" stroke-width="0.8"/>
<path d="M934.3,1079.4 948.9,1086.6 961.0,1084.2 977.9,1084.2 992.4,1084.2 1007.0,1081.8 1009.4,1098.7 1009.4,1110.8 999.7,1120.5 990.0,1127.8 987.6,1139.9 973.1,1142.3 958.5,1144.7 944.0,1147.2 929.5,1142.3 927.1,1139.9 931.9,1130.2 936.8,1113.3 944.0,1101.2Z" fill="#8ca1d2" stroke="#3c3c3c" stroke-width="0.8"/>
<path d="M1051.8,1194.4 1056.6,1190.8 1061.5,1195.6 1062.7,1205.3 1054.2,1207.7Z" fill="#e9cf98" stroke="#3c3c3c" stroke-width="0.8"/>
<path d="M968.2,1217.4 977.9,1229.5 987.6,1234.3 1002.1,1236.8 1014.2,1234.3 1026.3,1231.9 1038.5,1234.3 1050.6,1227.1 1062.7,1217.4 1074.8,1210.1 1089.3,1207.7 1103.8,1210.1 1123.2,1211.3 1125.6,1219.8 1123.2,1234.3 1118.4,1248.9 1115.9,1258.5 1108.7,1265.8 1118.4,1273.1 1125.6,1277.9 1113.5,1280.3 1103.8,1280.3 1094.1,1285.2 1084.5,1292.4 1077.2,1302.1 1074.8,1311.8 1065.1,1314.2 1050.6,1316.7 1038.5,1314.2 1026.3,1314.2 1019.1,1316.7 1002.1,1321.5 994.9,1321.5 992.4,1311.8 982.8,1302.1 973.1,1294.9 975.5,1282.8 977.9,1273.1 982.8,1263.4 973.1,1253.7 968.2,1239.2 965.8,1229.5Z" fill="#4f6cb0" stroke="#3c3c3c" stroke-width="0.8"/>
<path d="M975.5,1263.4 982.8,1263.4 997.3,1265.8 1009.4,1263.4 1021.5,1273.1 1016.7,1282.8 1014.2,1297.3 1019.1,1316.7 1002.1,1321.5 994.9,1321.5 992.4,1311.8 982.8,1302.1 973.1,1294.9 975.5,1282.8 977.9,1273.1Z" fill="#d9ddf0" stroke="#3c3c3c" stroke-width="0.8"/>
<path d="M924.6,1401.7 930.4,1394.0 938.1,1382.3 942.0,1370.7 945.9,1355.2 943.9,1351.4 953.6,1347.5 965.2,1343.6 976.9,1339.7 988.5,1332.0 996.2,1326.2 1007.8,1322.3 1019.5,1316.5 1031.1,1312.6 1042.7,1314.6 1054.3,1318.4 1066.0,1314.6 1075.6,1308.7 1077.6,1301.0 1083.4,1297.1 1089.2,1301.0 1091.1,1308.7 1085.3,1318.4 1083.4,1332.0 1073.7,1332.0 1064.0,1330.0 1054.3,1332.0 1044.6,1333.9 1035.0,1335.9 1027.2,1341.7 1019.5,1345.5 1015.6,1351.4 1023.3,1357.2 1027.2,1363.0 1029.2,1368.8 1023.3,1370.7 1015.6,1366.9 1011.7,1363.0 1005.9,1359.1 998.2,1355.2 994.3,1359.1 992.3,1363.0 992.3,1370.7 990.4,1378.5 996.2,1386.2 1004.0,1394.0 1011.7,1401.7 1013.7,1405.6 1007.8,1409.5 1015.6,1413.3 1023.3,1417.2 1033.0,1421.1 1038.8,1425.0 1046.6,1432.7 1054.3,1436.6 1056.3,1440.5 1050.5,1440.5 1042.7,1436.6 1035.0,1434.6 1027.2,1432.7 1019.5,1430.8 1015.6,1430.8 1019.5,1436.6 1023.3,1444.3 1019.5,1448.2 1013.7,1450.1 1011.7,1446.3 1004.0,1442.4 996.2,1440.5 988.5,1440.5 980.7,1442.4 973.0,1440.5 963.3,1440.5 957.5,1440.5 953.6,1436.6 947.8,1430.8 943.9,1426.9 942.0,1421.1 938.1,1417.2 932.3,1411.4 926.5,1405.6Z" fill="#4f6cb0" stroke="#3c3c3c" stroke-width="0.8"/>
<path d="M926.5,1405.6 930.4,1394.0 938.1,1382.3 942.0,1374.6 945.9,1382.3 953.6,1388.2 955.5,1397.8 961.4,1405.6 961.4,1413.3 953.6,1417.2 947.8,1421.1 943.9,1417.2 938.1,1413.3 932.3,1409.5Z" fill="#d9ddf0" stroke="#3c3c3c" stroke-width="0.8"/>
<path d="M953.6,1388.2 961.4,1386.2 973.0,1380.4 980.7,1374.6 988.5,1378.5 996.2,1386.2 1004.0,1394.0 1011.7,1401.7 1013.7,1405.6 1007.8,1409.5 1000.1,1413.3 992.3,1411.4 984.6,1409.5 976.9,1411.4 969.1,1413.3 961.4,1413.3 961.4,1405.6 955.5,1397.8Z" fill="#8ca1d2" stroke="#3c3c3c" stroke-width="0.8"/>
<path d="M963.3,1442.4 973.0,1440.5 980.7,1442.4 988.5,1440.5 996.2,1442.4 1004.0,1444.3 1011.7,1446.3 1015.6,1452.1 1019.5,1459.8 1027.2,1463.7 1029.2,1467.6 1023.3,1469.5 1015.6,1467.6 1011.7,1471.5 1015.6,1479.2 1023.3,1486.9 1027.2,1500.5 1023.3,1502.4 1015.6,1494.7 1007.8,1490.8 1005.9,1504.4 1000.1,1500.5 996.2,1492.8 990.4,1488.9 984.6,1498.6 980.7,1490.8 976.9,1479.2 980.7,1471.5 973.0,1467.6 965.2,1461.8 961.4,1456.0 961.4,1448.2Z" fill="#4f6cb0" stroke="#3c3c3c" stroke-width="0.8"/>
<path d="M1015.6,1440.5 1023.3,1436.6 1033.0,1432.7 1038.8,1434.6 1044.6,1444.3 1044.6,1454.0 1038.8,1450.1 1031.1,1444.3 1021.4,1446.3 1017.5,1444.3Z" fill="#d9ddf0" stroke="#3c3c3c" stroke-width="0.8"/>
<path d="M1000.1,1417.2 1007.8,1413.3 1019.5,1417.2 1031.1,1421.1 1042.7,1426.9 1050.5,1432.7 1056.3,1438.5 1054.3,1440.5 1046.6,1436.6 1038.8,1432.7 1031.1,1430.8 1021.4,1426.9 1013.7,1425.0 1004.0,1421.1Z" fill="#4f6cb0" stroke="#3c3c3c" stroke-width="0.8"/>
<path d="M1044.6,1529.6 1050.5,1527.6 1058.2,1529.6 1066.0,1527.6 1073.7,1529.6 1085.3,1527.6 1096.9,1527.6 1108.6,1527.6 1120.2,1525.7 1126.0,1527.6 1126.0,1533.4 1116.3,1537.3 1102.8,1541.2 1089.2,1545.1 1083.4,1547.0 1073.7,1543.1 1062.1,1543.1 1048.5,1543.1 1043.7,1539.2Z" fill="#e9cf98" stroke="#3c3c3c" stroke-width="0.8"/>
<path d="M911.0,1397.8 916.8,1395.9 920.7,1401.7 924.6,1409.5 920.7,1411.4 914.9,1405.6Z" fill="#4f6cb0" stroke="#3c3c3c" stroke-width="0.8"/>
<path d="M936.2,1448.2 942.0,1442.4 947.8,1446.3 949.7,1454.0 943.9,1456.0 938.1,1454.0Z" fill="#4f6cb0" stroke="#3c3c3c" stroke-width="0.8"/>
<path d="M947.8,1461.8 953.6,1463.7 956.5,1467.6 951.7,1467.6Z" fill="#4f6cb0" stroke="#3c3c3c" stroke-width="0.8"/>
<path d="M1087.3,1386.2 1093.1,1382.3 1100.8,1381.4 1106.6,1386.2 1108.6,1392.0 1102.8,1394.0 1093.1,1392.0Z" fill="#8ca1d2" stroke="#3c3c3c" stroke-width="0.8"/>
<path d="M1091.1,1413.3 1096.9,1411.4 1100.8,1413.3 1098.9,1421.1 1095.0,1425.0 1093.1,1419.2Z" fill="#8ca1d2" stroke="#3c3c3c" stroke-width="0.8"/>
<path d="M1118.3,1436.6 1126.0,1434.6 1129.9,1436.6 1122.1,1438.5Z" fill="#8ca1d2" stroke="#3c3c3c" stroke-width="0.8"/>
<path d="M1102.8,1446.3 1108.6,1442.4 1112.4,1444.3 1106.6,1447.2Z" fill="#8ca1d2" stroke="#3c3c3c" stroke-width="0.8"/>
<path d="M1162.8,1483.1 1168.6,1475.3 1174.4,1471.5 1174.4,1479.2 1170.6,1486.9 1164.7,1492.8Z" fill="#d9ddf0" stroke="#3c3c3c" stroke-width="0.8"/>
<path d="M1060.1,1366.9 1066.0,1364.9 1069.8,1363.0 1067.9,1368.8 1062.1,1370.7Z" fill="#8ca1d2" stroke="#3c3c3c" stroke-width="0.8"/>
<path d="M1040.8,1341.7 1044.6,1339.7 1048.5,1343.6 1044.6,1346.5Z" fill="#4f6cb0" stroke="#3c3c3c" stroke-width="0.8"/>
<path d="M1067.9,1345.5 1071.8,1344.6 1073.7,1346.5 1070.8,1347.9Z" fill="#4f6cb0" stroke="#3c3c3c" stroke-width="0.8"/>
<path d="M1060.1,1442.4 1062.1,1440.5 1064.0,1442.4 1062.1,1444.1Z" fill="#d9ddf0" stroke="#3c3c3c" stroke-width="0.8"/>
<path d="M1073.7,1450.1 1075.6,1448.2 1077.6,1450.1 1075.6,1451.9Z" fill="#d9ddf0" stroke="#3c3c3c" stroke-width="0.8"/>
<path d="M1081.5,1454.0 1083.4,1452.1 1085.3,1454.0 1083.4,1455.8Z" fill="#d9ddf0" stroke="#3c3c3c" stroke-width="0.8"/>
<path d="M1052.4,1454.0 1054.3,1452.1 1056.3,1454.0 1054.3,1455.8Z" fill="#d9ddf0" stroke="#3c3c3c" stroke-width="0.8"/>
<path d="M1058.2,1463.7 1060.1,1461.8 1062.1,1463.7 1060.1,1465.4Z" fill="#d9ddf0" stroke="#3c3c3c" stroke-width="0.8"/>
<path d="M1079.5,1467.6 1081.5,1465.6 1083.4,1467.6 1081.5,1469.3Z" fill="#d9ddf0" stroke="#3c3c3c" stroke-width="0.8"/>
<path d="M1089.2,1467.6 1091.1,1465.6 1093.1,1467.6 1091.1,1469.3Z" fill="#d9ddf0" stroke="#3c3c3c" stroke-width="0.8"/>
<path d="M1067.9,1475.3 1069.8,1473.4 1071.8,1475.3 1069.8,1477.1Z" fill="#d9ddf0" stroke="#3c3c3c" stroke-width="0.8"/>
<path d="M1085.3,1479.2 1087.3,1477.3 1089.2,1479.2 1087.3,1480.9Z" fill="#d9ddf0" stroke="#3c3c3c" stroke-width="0.8"/>
<path d="M1060.1,1483.1 1062.1,1481.1 1064.0,1483.1 1062.1,1484.8Z" fill="#d9ddf0" stroke="#3c3c3c" stroke-width="0.8"/>
<path d="M1091.1,1488.9 1093.1,1486.9 1095.0,1488.9 1093.1,1490.6Z" fill="#d9ddf0" stroke="#3c3c3c" stroke-width="0.8"/>
<path d="M1071.8,1483.1 1073.7,1481.1 1075.6,1483.1 1073.7,1484.8Z" fill="#d9ddf0" stroke="#3c3c3c" stroke-width="0.8"/>
<path d="M1100.8,1471.5 1102.8,1469.5 1104.7,1471.5 1102.8,1473.2Z" fill="#d9ddf0" stroke="#3c3c3c" stroke-width="0.8"/>
<path d="M1110.5,1479.2 1112.4,1477.3 1114.4,1479.2 1112.4,1480.9Z" fill="#d9ddf0" stroke="#3c3c3c" stroke-width="0.8"/>
<path d="M1124.1,1456.0 1126.0,1454.0 1127.9,1456.0 1126.0,1457.7Z" fill="#d9ddf0" stroke="#3c3c3c" stroke-width="0.8"/>
<path d="M1129.9,1459.8 1131.8,1457.9 1133.8,1459.8 1131.8,1461.6Z" fill="#d9ddf0" stroke="#3c3c3c" stroke-width="0.8"/>
<path d="M1135.7,1463.7 1137.6,1461.8 1139.6,1463.7 1137.6,1465.4Z" fill="#d9ddf0" stroke="#3c3c3c" stroke-width="0.8"/>
<path d="M1116.3,1473.4 1118.3,1471.5 1120.2,1473.4 1118.3,1475.1Z" fill="#d9ddf0" stroke="#3c3c3c" stroke-width="0.8"/>
<path d="M1145.4,1475.3 1147.3,1473.4 1149.2,1475.3 1147.3,1477.1Z" fill="#d9ddf0" stroke="#3c3c3c" stroke-width="0.8"/>
<path d="M1149.2,1502.4 1151.2,1500.5 1153.1,1502.4 1151.2,1504.2Z" fill="#d9ddf0" stroke="#3c3c3c" stroke-width="0.8"/>
<path d="M1145.4,1510.2 1147.3,1508.3 1149.2,1510.2 1147.3,1511.9Z" fill="#d9ddf0" stroke="#3c3c3c" stroke-width="0.8"/>
<path d="M1019.5,1510.2 1021.4,1508.3 1023.3,1510.2 1021.4,1511.9Z" fill="#d9ddf0" stroke="#3c3c3c" stroke-width="0.8"/>
<path d="M1025.3,1454.0 1027.2,1452.1 1029.2,1454.0 1027.2,1455.8Z" fill="#d9ddf0" stroke="#3c3c3c" stroke-width="0.8"/>
<path d="M1052.4,1405.6 1054.3,1403.7 1056.3,1405.6 1054.3,1407.3Z" fill="#d9ddf0" stroke="#3c3c3c" stroke-width="0.8"/>
<path d="M1050.5,1409.5 1052.4,1407.5 1054.3,1409.5 1052.4,1411.2Z" fill="#d9ddf0" stroke="#3c3c3c" stroke-width="0.8"/>
<path d="M1301.3,1488.8 1309.2,1480.8 1325.2,1476.8 1341.2,1464.9 1357.1,1448.9 1353.1,1464.9 1349.1,1480.8 1333.2,1488.8 1325.2,1496.8 1309.2,1498.8Z" fill="#e1e1e1" stroke="#3c3c3c" stroke-width="0.8"/>
<path d="M582.2,1115.6 616.1,1115.6 619.6,1128.7 611.1,1128.7 604.7,1124.5 600.5,1125.6 592.0,1130.8 583.6,1133.0 575.1,1135.1 564.5,1137.2 568.7,1122.4Z" fill="#e9cf98"/>
<path d="M611.8,1115.6 647.9,1115.6 657.7,1118.1 657.7,1135.1 647.1,1137.2 638.6,1135.1 628.1,1133.0 619.6,1128.7 611.1,1128.7Z" fill="#dba94a"/>
<path d="M647.9,1115.6 709.3,1115.6 711.4,1111.4 731.9,1084.2 729.7,1088.5 727.6,1094.8 723.4,1096.9 719.2,1101.2 710.7,1105.4 708.6,1111.8 710.7,1122.4 712.8,1133.0 708.6,1130.8 702.2,1128.7 693.7,1128.7 681.0,1130.8 668.3,1133.0 657.7,1135.1 657.7,1118.1Z" fill="#c8733c"/>
<path d="M640.0,984.8 654.5,980.0 710.2,980.0 712.6,992.1 707.8,999.4 696.9,1000.6 690.8,1010.3 686.0,1016.3 683.6,1023.6 676.3,1028.4 664.2,1028.4 652.1,1030.8 640.0,1028.4Z" fill="#d9ddf0" stroke="#3c3c3c" stroke-width="0.8"/>
<path d="M710.2,980.0 749.0,980.0 753.8,987.3 752.6,998.2 749.0,1009.1 745.3,1006.6 741.7,1004.2 736.9,1005.4 732.0,1009.1 722.3,1012.7 717.5,1005.4 712.6,998.2 712.6,992.1Z" fill="#dba94a" stroke="#3c3c3c" stroke-width="0.8"/>
<path d="M696.9,1000.6 707.8,999.4 712.6,998.2 717.5,1005.4 722.3,1012.7 712.6,1016.3 703.0,1020.0 694.5,1026.0 688.4,1030.8 686.0,1016.3 690.8,1010.3Z" fill="#e9cf98" stroke="#3c3c3c" stroke-width="0.8"/>
<path d="M652.1,1032.1 664.2,1028.4 676.3,1028.4 683.6,1023.6 688.4,1030.8 693.3,1036.9 695.7,1043.0 688.4,1047.8 677.5,1051.4 673.9,1056.3 664.2,1053.8 652.1,1051.4Z" fill="#dba94a" stroke="#3c3c3c" stroke-width="0.8"/>
<path d="M642.4,1057.5 652.1,1052.6 664.2,1053.8 673.9,1057.5 671.5,1069.6 666.6,1076.9 658.2,1082.9 647.3,1081.7 643.6,1072.0Z" fill="#e9cf98" stroke="#3c3c3c" stroke-width="0.8"/>
<path d="M673.9,1056.3 677.5,1051.4 688.4,1047.8 695.7,1043.0 696.9,1046.6 700.5,1057.5 707.8,1067.2 717.5,1074.4 724.7,1081.7 729.6,1089.0 717.5,1076.9 707.8,1074.4 698.1,1075.6 690.8,1082.9 680.0,1080.5 671.5,1069.6Z" fill="#c8733c" stroke="#3c3c3c" stroke-width="0.8"/>
<path d="M680.0,1080.5 690.8,1082.9 698.1,1075.6 707.8,1074.4 717.5,1076.9 724.7,1081.7 729.6,1089.0 729.6,1096.2 722.3,1101.1 712.6,1107.1 707.8,1110.8 693.3,1101.1 683.6,1096.2 680.0,1089.0Z" fill="#dba94a" stroke="#3c3c3c" stroke-width="0.8"/>
<path d="M658.2,1082.9 666.6,1076.9 671.5,1069.6 680.0,1080.5 680.0,1089.0 683.6,1096.2 693.3,1101.1 707.8,1110.8 711.4,1115.6 712.6,1125.3 710.2,1131.3 704.2,1128.9 692.1,1126.5 676.3,1131.3 664.2,1136.2 658.2,1125.3 659.4,1110.8 664.2,1098.6 667.8,1086.5Z" fill="#c8733c" stroke="#3c3c3c" stroke-width="0.8"/>
<path d="M640.0,1084.1 647.3,1081.7 658.2,1082.9 667.8,1086.5 664.2,1098.6 659.4,1110.8 658.2,1125.3 664.2,1136.2 652.1,1133.8 640.0,1138.6Z" fill="#dba94a" stroke="#3c3c3c" stroke-width="0.8"/>
<path d="M688.4,1030.8 694.5,1026.0 703.0,1020.0 712.6,1016.3 722.3,1012.7 732.0,1009.1 736.9,1005.4 741.7,1004.2 745.3,1006.6 749.0,1009.1 753.8,1007.8 755.0,1003.0 761.1,1005.4 767.1,1010.3 773.2,1013.9 782.9,1015.1 785.3,1020.0 790.1,1026.0 795.0,1032.1 797.4,1029.6 801.0,1021.2 807.1,1022.4 814.3,1024.8 819.2,1026.0 824.0,1028.4 828.9,1032.1 833.7,1033.3 840.0,1032.1 845.8,1033.3 848.2,1047.8 840.0,1051.4 836.1,1055.1 831.3,1064.7 824.0,1072.0 815.5,1076.9 807.1,1079.3 804.6,1084.1 795.0,1082.9 785.3,1082.9 775.6,1079.3 767.1,1076.9 758.6,1078.1 755.0,1086.5 749.0,1091.4 739.3,1092.6 732.0,1089.0 724.7,1081.7 717.5,1074.4 707.8,1067.2 700.5,1057.5 696.9,1046.6 693.3,1036.9Z" fill="#c8733c" stroke="#3c3c3c" stroke-width="0.8"/>
<path d="M694.5,1027.2 703.0,1020.0 712.6,1016.3 722.3,1012.7 732.0,1009.1 736.9,1005.4 741.7,1004.2 744.1,1007.8 742.9,1016.3 739.3,1023.6 732.0,1028.4 724.7,1033.3 717.5,1038.1 707.8,1043.0 699.3,1046.6 695.7,1040.5 693.3,1035.7Z" fill="#e9cf98" stroke="#3c3c3c" stroke-width="0.8"/>
<path d="M739.3,1038.1 744.1,1035.1 749.0,1036.9 747.7,1040.5 742.9,1041.7 739.9,1040.5Z" fill="#c8733c" stroke="#3c3c3c" stroke-width="0.8"/>
<path d="M807.1,1030.8 809.5,1028.4 815.5,1026.0 824.0,1028.4 828.9,1032.1 833.7,1033.3 840.0,1032.1 845.8,1033.3 848.2,1047.8 840.0,1051.4 833.7,1050.2 826.4,1046.6 819.2,1044.2 809.5,1040.5Z" fill="#dba94a" stroke="#3c3c3c" stroke-width="0.8"/>
<path d="M712.6,1107.1 722.3,1101.1 729.6,1096.2 732.0,1091.4 739.3,1092.6 749.0,1091.4 755.0,1086.5 757.4,1095.0 756.2,1105.9 749.0,1108.3 753.8,1115.6 755.0,1122.9 749.0,1125.3 736.9,1125.3 732.0,1132.5 724.7,1133.8 717.5,1127.7 712.6,1125.3 711.4,1115.6 707.8,1110.8Z" fill="#c8733c" stroke="#3c3c3c" stroke-width="0.8"/>
<path d="M755.0,1086.5 758.6,1078.1 767.1,1076.9 775.6,1079.3 785.3,1082.9 795.0,1082.9 804.6,1084.1 807.1,1089.0 805.9,1096.2 809.5,1107.1 811.9,1113.2 803.4,1115.6 797.4,1118.0 792.5,1125.3 785.3,1120.4 773.2,1119.2 761.1,1125.3 755.0,1122.9 753.8,1115.6 749.0,1108.3 756.2,1105.9 757.4,1095.0Z" fill="#dba94a" stroke="#3c3c3c" stroke-width="0.8"/>
<path d="M790.1,1102.3 793.8,1099.9 797.4,1102.3 796.2,1105.9 791.3,1105.9Z" fill="#8ca1d2" stroke="#3c3c3c" stroke-width="0.8"/>
<path d="M728.4,1127.7 736.9,1125.3 749.0,1125.3 755.0,1122.9 761.1,1125.3 773.2,1119.2 785.3,1120.4 792.5,1125.3 792.5,1137.4 790.1,1149.5 788.9,1154.3 779.2,1155.5 764.7,1158.0 761.1,1151.9 749.0,1148.3 736.9,1149.5 734.4,1141.0 732.0,1132.5Z" fill="#dba94a" stroke="#3c3c3c" stroke-width="0.8"/>
<path d="M792.5,1125.3 797.4,1118.0 803.4,1115.6 811.9,1113.2 809.5,1120.4 802.2,1125.3 802.2,1135.0 799.8,1144.6 792.5,1151.9 790.1,1149.5 792.5,1137.4Z" fill="#c8733c" stroke="#3c3c3c" stroke-width="0.8"/>
<path d="M690.8,1144.6 700.5,1139.8 707.8,1132.5 712.6,1125.3 717.5,1127.7 724.7,1133.8 732.0,1132.5 734.4,1141.0 736.9,1149.5 724.7,1149.5 712.6,1148.3 705.4,1148.3Z" fill="#c8733c" stroke="#3c3c3c" stroke-width="0.8"/>
<path d="M643.6,1142.2 652.1,1136.2 664.2,1136.2 676.3,1131.3 692.1,1126.5 704.2,1128.9 710.2,1131.3 707.8,1132.5 700.5,1139.8 690.8,1144.6 676.3,1147.1 664.2,1149.5 652.1,1154.3 644.8,1155.5Z" fill="#e9cf98" stroke="#3c3c3c" stroke-width="0.8"/>
<path d="M694.5,1149.5 703.0,1147.7 707.8,1151.9 709.0,1158.0 704.2,1160.4 696.9,1158.0Z" fill="#e9cf98" stroke="#3c3c3c" stroke-width="0.8"/>
<path d="M707.8,1149.5 724.7,1149.5 736.9,1149.5 749.0,1148.3 761.1,1151.9 764.7,1158.0 761.1,1164.0 749.0,1165.2 736.9,1164.0 724.7,1162.8 712.6,1160.4 709.0,1158.0 707.8,1151.9Z" fill="#dba94a" stroke="#3c3c3c" stroke-width="0.8"/>
<path d="M524.0,1016.0 535.0,1012.0 548.0,1015.0 553.0,1020.0 552.0,1030.0 545.0,1033.0 530.0,1032.0 523.0,1025.0Z" fill="#8ca1d2" stroke="#3c3c3c" stroke-width="0.8"/>
</g>
<g fill="none" stroke="#3a3a3a" stroke-width="0.8" stroke-linejoin="round">
<path d="M596.0,601.5 611.0,594.0 626.0,594.0 629.8,589.0"/>
<path d="M593.5,606.5 601.0,619.0 607.2,629.0 606.0,641.5 596.0,651.5 593.5,659.0 596.0,669.0 593.5,675.2"/>
<path d="M606.0,641.5 626.0,654.0 636.0,664.0 646.0,669.0 656.0,661.5 666.0,669.0 673.5,684.0"/>
<path d="M671.0,494.0 698.5,492.8 706.0,494.0"/>
<path d="M721.0,714.0 721.0,679.0 726.0,674.0 741.0,679.0 746.0,669.0 758.5,664.0 768.5,649.0"/>
<path d="M726.0,741.5 711.0,749.0 708.5,769.0 701.0,781.5 708.5,794.0 706.0,809.0"/>
<path d="M711.0,716.5 728.5,724.0"/>
<path d="M919.8,587.1 930.7,599.8 941.6,598.0 959.7,583.4 979.7,565.3"/>
<path d="M890.7,898.1 899.8,894.5 910.7,883.6 912.5,872.7 907.0,861.8"/>
<path d="M816.2,988.9 809.0,1003.4 803.5,1019.8"/>
<path d="M836.2,994.4 838.0,1003.4 834.4,1021.6 830.7,1028.9"/>
<path d="M781.7,874.5 785.4,894.5 783.5,912.6 799.9,912.6"/>
<path d="M745.4,936.2 759.9,930.8 770.8,927.2 783.5,912.6"/>
<path d="M770.8,927.2 769.0,949.0 770.8,963.5 779.9,974.4"/>
<path d="M867.1,1008.9 885.2,1018.0 899.8,1008.9 910.7,994.4"/>
<path d="M754.5,1007.1 759.9,1021.6 763.6,1036.1 756.3,1048.8 758.1,1067.0 758.1,1077.9"/>
<path d="M763.6,1036.1 781.7,1039.8 794.4,1048.8 801.7,1076.1"/>
<path d="M794.4,1048.8 801.7,1036.1 807.1,1028.9"/>
<path d="M729.1,1043.4 741.8,1048.8 756.3,1048.8"/>
<path d="M801.7,1076.1 818.0,1074.3 827.1,1070.6"/>
<path d="M658.5,882.6 660.6,888.9 656.3,899.5 654.2,908.0 654.2,918.6"/>
<path d="M603.4,931.3 618.2,933.4 626.7,941.9 639.4,950.4 643.6,958.8 635.2,967.3 626.7,971.5 622.4,967.3"/>
<path d="M639.4,950.4 652.1,946.1 660.6,937.6"/>
<path d="M660.6,937.6 660.6,950.4 656.3,967.3 652.1,980.0"/>
<path d="M635.2,967.3 630.9,980.0 639.4,984.3"/>
<path d="M618.2,980.0 626.7,971.5"/>
<path d="M603.4,1009.7 611.8,992.7 618.2,1005.4 626.7,1013.9"/>
<path d="M575.8,950.4 584.3,956.7 592.8,954.6 597.0,965.2"/>
<path d="M571.6,965.2 575.8,980.0 573.7,1005.4 584.3,1026.6"/>
<path d="M573.7,980.0 588.5,980.0 603.4,1009.7"/>
<path d="M550.4,1022.4 558.9,1028.7 567.4,1026.6 575.8,1022.4 584.3,1026.6 592.8,1022.4"/>
<path d="M571.6,1054.2 584.3,1052.1 592.8,1047.8 597.0,1039.3"/>
<path d="M563.1,1058.4 571.6,1064.8 567.4,1071.1"/>
<path d="M588.5,1094.4 605.5,1092.3 611.8,1090.2"/>
<path d="M605.5,1043.6 611.8,1056.3 616.1,1073.2 611.8,1090.2"/>
<path d="M357.8,741.9 367.8,739.9"/>
<path d="M367.8,761.9 377.8,759.9 389.7,743.9"/>
<path d="M343.8,771.9 355.8,765.9 367.8,765.9 381.7,771.9"/>
<path d="M343.8,789.9 355.8,791.9 369.8,797.9"/>
<path d="M337.8,803.9 349.8,807.8 367.8,809.8 391.7,809.8"/>
<path d="M343.8,839.8 357.8,835.8 375.8,833.8 381.7,827.8 385.7,817.8 391.7,809.8"/>
<path d="M375.8,833.8 379.7,845.8 377.8,859.8 399.7,859.8"/>
<path d="M361.8,869.8 371.8,869.8 377.8,877.8 391.7,879.8 405.7,879.8 419.7,877.8"/>
<path d="M357.8,887.8 369.8,889.7 381.7,887.8 395.7,891.7 405.7,895.7 423.7,893.7"/>
<path d="M349.8,897.7 355.8,907.7 365.8,911.7"/>
<path d="M335.8,911.7 347.8,911.7 351.8,919.7 347.8,929.7 349.8,939.7 345.8,949.7"/>
<path d="M381.7,887.8 385.7,905.7 381.7,919.7 385.7,929.7"/>
<path d="M405.7,895.7 405.7,911.7 409.7,923.7 405.7,931.7"/>
<path d="M349.8,933.7 365.8,935.7 381.7,933.7 395.7,939.7 401.7,947.7 409.7,945.7 419.7,955.7"/>
<path d="M369.8,949.7 375.8,963.7 373.8,975.6 367.8,985.6"/>
<path d="M401.7,947.7 401.7,963.7 409.7,975.6 425.7,971.7 439.7,971.7"/>
<path d="M309.8,971.7 313.8,987.6 309.8,1005.6"/>
<path d="M325.8,971.7 345.8,975.6 361.8,973.6 373.8,975.6 391.7,975.6 401.7,975.6"/>
<path d="M341.8,975.6 341.8,995.6"/>
<path d="M389.7,975.6 389.7,999.6"/>
<path d="M411.7,973.6 415.7,979.6 419.7,973.6"/>
<path d="M332.6,1115.6 339.9,1110.8 352.0,1105.9 361.7,1101.1 371.4,1096.2 371.4,1079.3 381.1,1081.7 395.6,1086.5 400.4,1084.1 410.1,1091.4 417.4,1096.2"/>
<path d="M410.1,1050.2 417.4,1074.4 439.2,1064.7 444.0,1040.5 439.2,1028.4"/>
<path d="M444.0,1040.5 477.9,1047.8 497.3,1052.6"/>
<path d="M417.4,1074.4 419.8,1089.0 441.6,1103.5 465.8,1105.9 480.3,1093.8"/>
<path d="M441.6,1103.5 439.2,1125.3 465.8,1130.1 468.2,1149.5 482.8,1154.3"/>
<path d="M415.0,1108.3 439.2,1125.3"/>
<path d="M393.2,1130.1 415.0,1159.2 439.2,1164.0 453.7,1159.2 468.2,1154.3"/>
<path d="M519.1,1081.7 545.7,1101.1 567.5,1113.2 579.6,1115.6"/>
<path d="M536.0,1115.6 526.3,1130.1 528.8,1149.5 521.5,1164.0 526.3,1176.1"/>
<path d="M468.2,1149.5 482.8,1154.3 485.2,1171.3"/>
<path d="M371.4,1149.5 376.2,1193.1 395.6,1202.8 405.3,1188.2 415.0,1159.2"/>
<path d="M405.3,1188.2 424.6,1193.1 439.2,1188.2 448.9,1164.0"/>
<path d="M376.2,1193.1 371.4,1222.1 366.5,1251.2 371.4,1270.6 376.2,1289.9"/>
<path d="M395.6,1202.8 410.1,1217.3 405.3,1234.2 381.1,1246.3 371.4,1248.8"/>
<path d="M419.8,1193.1 419.8,1219.7 429.5,1222.1 439.2,1217.3 444.0,1197.9 439.2,1188.2"/>
<path d="M410.1,1217.3 429.5,1222.1"/>
<path d="M444.0,1197.9 468.2,1202.8 485.2,1212.4"/>
<path d="M545.7,1101.1 550.6,1115.6 567.5,1120.4 569.9,1135.0"/>
<path d="M569.9,1072.0 562.7,1084.1 572.3,1101.1 567.5,1113.2"/>
<path d="M95.6,1363.1 100.7,1363.1 110.9,1360.5 115.9,1363.1 126.1,1368.2 133.7,1365.6 143.9,1363.1 151.5,1363.1"/>
<path d="M189.7,1228.3 187.1,1243.6 189.7,1256.3"/>
<path d="M327.0,1261.4 314.3,1269.0 311.7,1279.2"/>
<path d="M238.0,1355.4 248.2,1345.3 260.9,1337.6 268.5,1332.6 273.6,1345.3 273.6,1368.2 263.4,1373.2 253.2,1373.2 243.1,1368.2 238.0,1355.4"/>
<path d="M212.6,1360.5 212.6,1373.2 220.2,1393.6 212.6,1411.4 202.4,1413.9 187.1,1429.2 169.3,1429.2 156.6,1419.0"/>
<path d="M212.6,1411.4 222.7,1419.0 238.0,1426.6 258.3,1429.2 278.7,1431.7 314.3,1434.3 321.9,1444.4"/>
<path d="M278.7,1431.7 283.7,1449.5 299.0,1474.9"/>
<path d="M388.0,1289.3 385.5,1307.1 377.8,1327.5 375.3,1337.6 372.7,1352.9"/>
<path d="M749.7,1341.7 767.5,1329.0"/>
<path d="M749.7,1351.9 775.1,1349.3 780.2,1336.6"/>
<path d="M775.1,1349.3 792.9,1362.0 795.5,1379.8 800.5,1402.7"/>
<path d="M792.9,1362.0 815.8,1372.2 826.0,1387.5"/>
<path d="M800.5,1402.7 815.8,1402.7 823.4,1392.6"/>
<path d="M604.7,1183.8 600.5,1198.6 602.6,1217.7 611.1,1226.2 621.7,1224.1"/>
<path d="M655.6,1194.4 659.8,1202.9 657.7,1215.6 668.3,1228.3"/>
<path d="M687.4,1177.5 700.1,1181.7 704.3,1194.4 706.4,1205.0"/>
<path d="M668.3,1228.3 681.0,1226.2"/>
<path d="M638.6,1260.1 647.1,1253.7 657.7,1255.8 672.5,1255.8 681.0,1253.7 689.5,1262.2 693.7,1274.9 689.5,1283.4"/>
<path d="M700.1,1266.4 700.1,1281.3 704.3,1291.9"/>
<path d="M881.1,1103.6 890.8,1115.7 905.3,1103.6 917.4,1093.9 934.3,1079.4"/>
<path d="M890.8,1127.8 895.6,1137.5"/>
<path d="M876.2,1210.1 895.6,1215.0 902.9,1205.3 910.1,1210.1 917.4,1219.8 929.5,1215.0 939.2,1210.1"/>
<path d="M902.9,1205.3 900.4,1217.4 905.3,1229.5 919.8,1229.5 929.5,1234.3 946.4,1234.3 944.0,1253.7 939.2,1263.4 929.5,1270.7"/>
<path d="M915.0,1287.6 919.8,1273.1 929.5,1270.7 948.9,1277.9 953.7,1285.2 951.3,1299.7"/>
<path d="M898.0,1340.9 910.1,1336.0 919.8,1340.9 929.5,1338.5"/>
<path d="M900.4,1355.4 915.0,1357.8 929.5,1353.0"/>
<path d="M1009.4,1110.8 1021.5,1108.4 1031.2,1115.7 1040.9,1130.2 1053.0,1139.9 1065.1,1135.1 1091.7,1132.6"/>
<path d="M987.6,1139.9 992.4,1152.0 985.2,1164.1 985.2,1173.8 965.8,1188.3 961.0,1210.1"/>
<path d="M985.2,1173.8 1009.4,1169.0 1031.2,1164.1 1050.6,1164.1 1065.1,1183.5 1089.3,1181.1 1103.8,1178.6 1106.2,1190.8"/>
<path d="M1009.4,1169.0 1011.8,1195.6 1023.9,1215.0 1026.3,1231.9"/>
<path d="M1053.0,1139.9 1053.0,1164.1"/>
<path d="M1038.5,1234.3 1036.0,1248.9 1040.9,1265.8 1045.7,1287.6"/>
<path d="M1062.7,1217.4 1065.1,1231.9 1074.8,1236.8 1084.5,1229.5 1096.6,1215.0"/>
<path d="M1040.9,1265.8 1069.9,1263.4 1082.0,1253.7 1106.2,1251.3"/>
<path d="M1009.4,1263.4 1038.5,1268.2"/>
<path d="M963.3,1351.4 973.0,1363.0 980.7,1374.6"/>
<path d="M942.0,1374.6 949.7,1378.5 961.4,1386.2 973.0,1380.4"/>
<path d="M1019.5,1316.5 1023.3,1328.1 1027.2,1335.9 1031.1,1339.7"/>
<path d="M969.1,1413.3 967.2,1425.0 980.7,1426.9 980.7,1438.5"/>
<path d="M996.2,1442.4 992.3,1456.0 980.7,1461.8 982.7,1471.5 980.7,1475.3"/>
<path d="M609.0,1088.5 611.1,1128.7"/>
<path d="M657.7,1092.7 657.7,1135.1"/>
<path d="M1132.3,1293.6 1132.3,1306.7 1129.0,1323.1"/>
<path d="M1158.5,1296.9 1158.5,1306.7"/>
<path d="M1250.0,1247.9 1263.1,1257.7 1259.8,1277.3 1266.3,1290.4"/>
<path d="M1220.6,1283.8 1236.9,1283.8 1253.3,1287.1 1266.3,1290.4 1279.4,1293.6 1299.0,1293.6 1308.8,1300.2"/>
<path d="M1321.9,1228.3 1321.9,1244.6 1305.6,1247.9 1295.8,1264.2 1299.0,1283.8 1295.8,1293.6"/>
<path d="M1308.8,1300.2 1328.4,1280.6 1354.6,1280.6 1367.7,1274.0 1374.2,1264.2 1390.6,1261.0 1393.8,1247.9 1406.9,1247.9 1420.0,1251.1 1439.6,1251.1 1449.4,1244.6"/>
<path d="M1361.1,1231.5 1367.7,1241.3 1361.1,1244.6 1380.8,1247.9 1390.6,1251.1"/>
<path d="M1420.0,1251.1 1423.2,1270.8 1426.5,1287.1 1410.2,1293.6 1406.9,1306.7 1410.2,1319.8 1420.0,1323.1 1426.5,1336.1 1426.5,1349.2 1420.0,1365.6 1403.6,1372.1 1400.4,1385.2"/>
<path d="M1449.4,1244.6 1449.4,1225.0 1462.5,1211.9 1478.8,1202.1 1485.4,1205.4 1495.2,1189.0 1505.0,1185.8 1508.2,1172.7 1505.0,1158.0"/>
<path d="M1505.0,1185.8 1514.8,1192.3 1511.5,1205.4 1524.6,1218.5 1527.9,1231.5 1518.1,1238.1 1505.0,1247.9 1482.1,1251.1 1462.5,1261.0 1439.6,1270.8 1426.5,1287.1"/>
<path d="M1527.9,1231.5 1540.9,1244.6 1550.7,1238.1 1557.3,1221.7 1570.4,1218.5"/>
<path d="M1540.9,1169.4 1540.9,1179.2 1550.7,1195.6"/>
<path d="M1505.0,1247.9 1505.0,1270.8 1488.6,1283.8 1472.3,1303.5 1459.2,1310.0 1439.6,1319.8 1426.5,1336.1"/>
<path d="M1505.0,1270.8 1514.8,1274.0 1521.3,1280.6 1537.7,1280.6 1557.3,1283.8 1576.9,1280.6 1580.2,1293.6"/>
<path d="M1514.8,1274.0 1514.8,1296.9 1505.0,1313.3 1485.4,1329.6 1505.0,1342.7"/>
<path d="M1459.2,1310.0 1459.2,1323.1 1446.1,1339.4 1436.3,1349.2 1436.3,1368.8 1446.1,1368.8"/>
<path d="M1423.2,1355.8 1406.9,1368.8 1400.4,1381.9"/>
<path d="M1403.6,1319.8 1390.6,1326.3 1387.3,1342.7 1380.8,1362.3 1384.0,1381.9 1390.6,1395.0"/>
<path d="M1384.0,1339.4 1374.2,1339.4 1367.7,1355.8 1361.1,1365.6 1357.9,1359.0 1351.3,1355.8 1348.1,1342.7 1341.5,1332.9 1338.3,1323.1 1328.4,1316.5 1308.8,1303.5"/>
<path d="M1289.2,1296.9 1285.9,1316.5 1295.8,1329.6 1305.6,1336.1 1302.3,1349.2 1295.8,1362.3 1299.0,1375.4 1312.1,1375.4 1325.2,1372.1 1335.0,1381.9 1338.3,1391.7 1341.5,1401.5"/>
<path d="M1295.8,1349.2 1279.4,1339.4 1263.1,1345.9 1250.0,1352.5 1250.0,1368.8 1246.7,1381.9 1250.0,1401.5 1253.3,1414.6 1263.1,1421.1 1276.1,1427.7 1289.2,1434.2 1302.3,1447.3"/>
<path d="M1250.0,1352.5 1233.6,1352.5 1210.8,1355.8 1207.5,1342.7 1194.4,1345.9 1174.8,1349.2 1168.3,1352.5 1158.5,1349.2 1145.4,1342.7 1138.8,1336.1"/>
<path d="M1217.3,1323.1 1230.4,1323.1 1243.5,1323.1 1250.0,1336.1 1256.5,1349.2"/>
<path d="M1174.8,1310.0 1181.3,1316.5 1191.1,1316.5 1207.5,1323.1 1217.3,1323.1"/>
<path d="M1168.3,1352.5 1168.3,1365.6 1158.5,1375.4 1151.9,1372.1 1145.4,1375.4 1129.0,1375.4"/>
<path d="M1129.0,1375.4 1125.8,1388.4 1122.5,1398.3 1132.3,1404.8 1145.4,1408.1"/>
<path d="M1145.4,1408.1 1165.0,1411.3 1184.6,1404.8 1201.0,1395.0 1207.5,1411.3 1204.2,1421.1 1201.0,1434.2 1204.2,1447.3 1210.8,1453.8 1210.8,1470.2"/>
<path d="M1201.0,1395.0 1210.8,1388.4 1230.4,1388.4 1240.2,1378.6 1246.7,1381.9"/>
<path d="M1240.2,1378.6 1230.4,1395.0 1220.6,1408.1 1207.5,1411.3"/>
<path d="M1135.6,1427.7 1145.4,1424.4 1165.0,1427.7"/>
<path d="M1585.1,1198.8 1576.9,1202.1 1570.4,1218.5 1580.2,1231.5 1590.0,1244.6 1596.5,1264.2 1609.6,1267.5 1619.4,1274.0 1609.6,1283.8 1603.0,1293.6 1583.4,1290.4 1570.4,1296.9 1557.3,1310.0 1537.7,1316.5 1518.1,1326.3 1505.0,1342.7 1485.4,1359.0 1465.7,1365.6 1446.1,1368.8 1429.8,1375.4 1420.0,1385.2 1406.9,1388.4 1406.9,1401.5 1413.4,1411.3 1403.6,1424.4 1393.8,1424.4 1390.6,1408.1 1387.3,1395.0"/>
<path d="M1086.5,1293.6 1112.7,1283.8 1125.8,1280.6"/>
<path d="M1132.3,1293.6 1158.5,1296.9 1184.6,1292.0 1217.3,1283.8 1233.6,1264.2 1250.0,1247.9 1263.1,1238.1 1282.7,1233.2 1305.6,1221.7 1310.5,1220.1 1321.9,1228.3 1335.0,1225.0 1348.1,1231.5 1361.1,1231.5 1380.8,1228.3 1400.4,1225.0 1423.2,1215.2 1446.1,1208.6 1462.5,1195.6 1478.8,1172.7 1491.9,1166.2 1505.0,1158.0 1518.1,1162.9 1527.9,1166.2 1540.9,1169.4 1550.7,1195.6 1563.8,1192.3 1576.9,1195.6 1585.1,1198.8"/>
<path d="M1387.3,1395.0 1374.2,1401.5 1357.9,1408.1 1341.5,1411.3 1325.2,1421.1 1308.8,1430.9 1302.3,1447.3 1289.2,1447.3 1276.1,1437.5 1256.5,1430.9 1240.2,1434.2 1236.9,1453.8 1223.8,1463.6 1210.8,1470.2 1201.0,1463.6 1187.9,1466.9 1178.1,1460.4 1165.0,1466.9 1158.5,1457.1 1145.4,1450.6 1138.8,1434.2 1132.3,1424.4 1129.0,1417.9 1112.7,1408.1 1109.4,1395.0 1122.5,1391.7 1119.2,1378.6 1112.7,1375.4 1102.9,1368.8 1093.1,1365.6 1089.8,1352.5 1099.6,1342.7 1106.2,1332.9 1119.2,1326.3 1129.0,1323.1 1145.4,1319.8 1158.5,1316.5 1171.5,1313.3 1184.6,1310.0"/>
<path d="M717.5,1038.1 724.7,1045.4 729.6,1052.6 729.6,1058.7 739.3,1057.5 756.2,1055.1 761.1,1047.8 768.3,1045.4"/>
<path d="M744.1,1007.8 751.4,1017.5 759.9,1020.0 764.7,1033.3 768.3,1045.4 776.8,1047.8 797.4,1051.4"/>
<path d="M768.3,1045.4 756.2,1055.1 758.6,1064.7 767.1,1072.0 772.0,1076.9"/>
<path d="M797.4,1051.4 803.4,1058.7 809.5,1069.6 821.6,1073.2"/>
<path d="M797.4,1029.6 797.4,1036.9 798.6,1047.8 797.4,1051.4"/>
<path d="M729.6,1058.7 732.0,1072.0 734.4,1079.3"/>
<path d="M703.0,1057.5 712.6,1072.0"/>
<path d="M792.5,1125.3 792.5,1137.4 790.1,1149.5"/>
<path d="M359.8,739.9 367.8,751.9 369.8,761.9"/>
<path d="M381.7,771.9 381.7,787.9"/>
<path d="M339.8,803.9 343.8,819.8 349.8,831.8"/>
<path d="M367.8,809.8 369.8,823.8 375.8,833.8"/>
<path d="M379.7,845.8 399.7,845.8"/>
<path d="M371.8,869.8 375.8,879.8 371.8,889.7"/>
<path d="M391.7,879.8 395.7,891.7"/>
<path d="M359.8,899.7 369.8,899.7 379.7,905.7 381.7,919.7"/>
<path d="M393.7,903.7 405.7,911.7 421.7,911.7"/>
<path d="M349.8,919.7 361.8,917.7 369.8,923.7 377.8,923.7"/>
<path d="M369.8,923.7 371.8,937.7"/>
<path d="M393.7,919.7 393.7,935.7"/>
<path d="M409.7,925.7 421.7,939.7"/>
<path d="M353.8,939.7 365.8,943.7 379.7,941.7"/>
<path d="M389.7,939.7 389.7,955.7 399.7,963.7"/>
<path d="M409.7,955.7 419.7,963.7 429.7,959.7"/>
<path d="M415.7,969.7 421.7,977.6 435.7,979.6"/>
<path d="M361.8,955.7 373.8,955.7 381.7,963.7"/>
<path d="M399.7,963.7 409.7,973.6"/>
<path d="M329.8,915.7 339.8,925.7 345.8,939.7"/>
<path d="M321.8,931.7 333.8,939.7 335.8,949.7"/>
<path d="M349.8,949.7 361.8,955.7"/>
<path d="M381.7,975.6 381.7,989.6"/>
<path d="M357.8,975.6 359.8,991.6"/>
<path d="M406.7,973.6 409.7,970.7 414.7,971.7 415.7,976.6 410.7,978.6 406.7,973.6"/>
<path d="M409.7,973.6 413.7,975.2"/>
<path d="M419.7,871.8 409.7,871.8 405.7,879.8"/>
<path d="M423.7,899.7 415.7,903.7 413.7,915.7"/>
<path d="M439.7,937.7 429.7,939.7 425.7,951.7"/>
</g>
<g fill="none" stroke="#000" stroke-width="2.8" stroke-linejoin="round" stroke-linecap="round">
<path d="M781.8,332.3 780.3,338.6 774.0,341.7 775.5,360.6 763.0,365.3 750.4,362.2 748.8,381.1 739.3,379.5 726.8,403.1 729.9,420.0 731.0,419.0 718.5,441.5 719.8,449.0 706.0,454.0 707.2,469.0 706.0,494.0 698.5,511.5 703.5,519.0 704.8,519.0 703.5,529.0 686.0,531.5 676.0,544.0 672.2,561.5 676.0,576.5 676.0,594.0 677.2,614.0 688.5,626.5 687.2,639.0 679.8,644.0 683.5,659.0 686.0,669.0 683.5,679.0 673.5,684.0 672.2,694.0 671.0,706.5 669.8,719.0"/>
<path d="M781.8,332.3 785.0,330.7 791.3,333.9 797.6,340.2 803.9,348.0 814.9,348.0 822.8,341.7 838.5,346.5 841.6,340.2 844.8,332.3 843.2,308.7 844.8,296.1 851.1,291.4 862.1,284.3 870.0,289.8 881.0,294.5 885.7,299.2 887.3,311.8 882.6,324.4"/>
<path d="M882.6,324.4 885.7,318.1 888.9,311.8 893.6,300.8 896.7,293.0 904.6,289.8"/>
<path d="M882.6,324.4 885.7,337.0 893.6,348.0 903.0,351.2 912.5,360.6 914.0,371.6 909.3,390.5 920.3,403.1 932.9,420.0 939.8,429.1 936.1,434.5 939.8,452.7 948.9,461.8 952.5,472.7 961.6,479.9 963.4,489.0 957.9,496.3 968.8,503.5 981.5,507.2 992.4,518.1 992.4,529.0 988.8,547.1 981.5,565.3 974.3,583.4 965.2,601.6 956.1,619.7"/>
<path d="M781.8,332.3 781.8,343.3 794.4,352.8 810.2,359.1 819.6,363.8 825.9,371.6 827.5,381.1 832.2,390.5 833.8,403.1 838.5,411.0 841.6,420.0 839.9,434.5 849.0,447.2"/>
<path d="M972.1,657.7 975.1,660.8 972.1,665.3 970.5,676.0 964.5,683.6 970.5,694.2 975.1,706.4 981.2,713.2 978.1,717.0 976.6,727.6"/>
<path d="M916.6,729.1 921.9,724.6 931.0,718.5 940.2,721.5 949.3,724.6 955.4,730.7 961.4,732.2 967.5,727.6 976.6,727.6 987.3,733.7 988.8,750.4 994.9,751.9 1004.0,767.1 1000.9,779.3 996.4,788.4 985.7,789.9 979.7,797.5"/>
<path d="M865.7,802.1 882.4,789.9 902.2,788.4 925.0,785.4 934.1,780.8 940.2,782.3 955.4,785.4 967.5,789.9 979.7,797.5 979.7,809.7 984.2,811.2 978.1,815.7 969.0,827.9 970.5,852.2 963.0,855.3 955.4,865.9 946.2,870.4 932.6,872.0 925.0,862.9 917.4,861.3 909.8,861.3 908.3,846.1 906.7,837.0 899.1,834.0 887.0,835.5 874.8,832.5 868.8,824.9"/>
<path d="M847.1,868.1 863.4,866.3 881.6,864.5 907.0,861.8 910.7,860.0 927.0,870.9 936.1,890.8 945.2,909.0 943.3,919.9 934.3,927.2 932.4,934.4 943.3,941.7 945.2,956.2 950.6,967.1 961.5,981.6 963.3,994.4 954.2,1003.4 948.8,1014.3 941.5,1025.2 936.1,1036.1 943.3,1048.8 945.2,1052.5 939.7,1052.5 927.0,1048.8 914.3,1043.4 899.8,1045.2 885.2,1048.8 874.3,1054.3 868.9,1048.8 861.6,1043.4 854.4,1045.2"/>
<path d="M752.7,1005.3 754.5,994.4 749.0,981.6 745.4,967.1 741.8,949.0 732.7,934.4 734.5,919.9 731.8,905.4 731.8,899.9"/>
<path d="M809.0,1082.4 807.1,1094.2 810.8,1108.8 816.2,1112.4 827.1,1114.2 854.4,1112.4 856.2,1106.9 863.4,1097.9 874.3,1096.1 881.6,1090.6 892.5,1083.3 908.8,1077.9 917.9,1077.9 932.4,1079.7 934.3,1067.0 936.1,1052.5 945.2,1052.5"/>
<path d="M854.4,1045.2 845.3,1050.7 838.0,1057.9 832.6,1063.4 827.1,1070.6 816.2,1077.9 809.0,1082.4"/>
<path d="M932.4,1079.6 948.9,1086.6 944.0,1101.2 936.8,1113.3 931.9,1130.2 927.1,1139.9 919.8,1152.0 910.1,1159.3 900.4,1164.1 890.8,1169.0 876.2,1171.4 866.5,1176.2 861.7,1181.1 854.4,1183.5 832.6,1183.5 823.0,1181.1 813.3,1173.8 803.6,1164.1 796.3,1156.9"/>
<path d="M628.1,1133.0 638.6,1135.1 647.1,1137.2"/>
<path d="M628.1,1133.0 630.2,1143.6 634.4,1149.9 642.9,1154.2 647.1,1160.5 649.2,1164.7 651.4,1156.3 657.7,1156.3 668.3,1154.2 676.8,1152.0 685.3,1149.9 693.7,1152.0 695.8,1156.3 702.2,1162.6 710.7,1164.7 721.3,1166.9 731.9,1166.9 742.5,1166.9 753.1,1169.0 763.6,1164.7 774.2,1162.6 784.8,1158.4 793.3,1154.2"/>
<path d="M536.9,1181.7 541.2,1173.2 551.8,1162.6 553.9,1154.2 564.5,1137.2 575.1,1135.1 583.6,1133.0 592.0,1130.8 600.5,1125.6 604.7,1124.5 611.1,1128.7 619.6,1128.7 628.1,1133.0"/>
<path d="M536.9,1181.7 541.2,1179.6 551.8,1171.1 560.3,1173.2 560.3,1185.9 562.4,1190.2 570.8,1188.1 579.3,1185.9 587.8,1179.6 596.3,1173.2 600.5,1175.3 604.7,1183.8 609.0,1192.3 613.2,1194.4 615.3,1185.9 619.6,1175.3 623.8,1173.2 630.2,1177.5 640.8,1179.6 638.6,1175.3 642.9,1169.0 649.2,1164.7"/>
<path d="M560.2,1185.8 562.7,1195.5 557.8,1202.8 560.2,1212.4 562.7,1222.1 555.4,1222.1 560.2,1234.2 557.8,1246.3 569.9,1256.0 577.2,1260.9 572.3,1270.6"/>
<path d="M453.7,1309.3 439.2,1311.7 429.5,1306.9 419.8,1302.0 410.1,1302.0 405.3,1297.2 395.6,1292.3 385.9,1289.9 371.4,1289.9 361.7,1285.1 352.0,1280.2 339.9,1273.0 332.6,1265.7 327.8,1260.9"/>
<path d="M468.2,994.5 473.1,1006.6 482.8,1011.5 492.4,1021.2 502.1,1030.8 504.6,1038.1 514.2,1035.7 516.7,1040.5 526.3,1052.6 538.5,1057.5 550.6,1057.5 557.8,1064.7 569.9,1072.0 582.0,1076.9 594.1,1079.3 591.7,1084.1 586.9,1093.8 582.0,1108.3 579.6,1125.3 577.2,1132.5"/>
<path d="M486.8,988.5 499.6,986.4 512.3,988.5 516.5,986.4 525.0,988.5 529.2,992.7 539.8,997.0 544.1,1003.3 544.1,1009.7 546.2,1016.0 550.4,1022.4 552.5,1028.7 548.3,1037.2 541.9,1039.3 539.8,1043.6 541.9,1052.1 533.5,1054.2"/>
<path d="M576.9,922.8 575.8,931.3 573.7,939.8 571.6,946.1 567.4,950.4 571.6,958.8 571.6,965.2 565.2,971.5 554.6,973.7 548.3,977.9 550.4,988.5 548.3,997.0 544.1,1003.3"/>
<path d="M548.3,1038.3 554.6,1043.6 556.8,1052.1 554.6,1058.4 558.9,1066.9 567.4,1073.2 580.1,1077.5 592.8,1081.7 588.5,1094.4 584.3,1105.0 582.2,1115.6 564.5,1137.2"/>
<path d="M541.9,1039.3 548.3,1037.2 554.6,1043.6 556.8,1052.1 552.5,1058.4 546.2,1058.4 541.9,1052.1 539.8,1043.6 541.9,1039.3"/>
<path d="M609.7,864.6 626.7,868.8"/>
<path d="M731.9,1166.9 731.9,1173.2 729.7,1185.9 731.9,1198.6 736.1,1207.1 744.6,1198.6 748.8,1198.6 759.4,1202.9 772.1,1202.9 774.2,1190.2 780.6,1181.7 784.8,1171.1 793.3,1164.7 795.4,1154.2"/>
<path d="M789.1,1212.5 798.7,1212.5 818.1,1210.1 832.6,1210.1 852.0,1212.5 861.7,1210.1 869.0,1215.0 876.2,1210.1"/>
<path d="M789.1,1212.5 789.1,1224.6 796.3,1234.3 798.7,1248.9 808.4,1253.7 820.5,1261.0 832.6,1273.1 842.3,1285.2 849.6,1292.4 861.7,1299.7 866.5,1302.1 869.0,1307.0"/>
<path d="M866.5,1176.2 871.4,1185.9 873.8,1200.4 878.6,1205.3 876.2,1210.1 878.6,1217.4 878.6,1229.5 881.1,1239.2 888.3,1244.0 885.9,1253.7 888.3,1263.4 878.6,1265.8 873.8,1273.1 869.0,1282.8 866.5,1292.4 866.5,1302.1"/>
<path d="M888.3,1268.2 895.6,1275.5 910.1,1282.8 915.0,1287.6 905.3,1292.4 900.4,1299.7 895.6,1307.0 893.2,1316.7"/>
<path d="M915.0,1287.6 915.0,1297.3 919.8,1302.1 924.6,1314.2 929.5,1326.3 931.9,1340.9 939.2,1350.6 944.0,1360.2"/>
<path d="M924.6,1401.7 930.4,1394.0 938.1,1382.3 942.0,1370.7 945.9,1355.2 943.9,1351.4 953.6,1347.5 965.2,1343.6 976.9,1339.7 988.5,1332.0 996.2,1326.2 1007.8,1322.3 1019.5,1316.5 1031.1,1312.6 1042.7,1314.6 1054.3,1318.4 1066.0,1314.6 1075.6,1308.7 1077.6,1301.0 1083.4,1297.1 1089.2,1301.0 1091.1,1308.7 1085.3,1318.4 1083.4,1332.0"/>
<path d="M929.5,1311.8 934.3,1307.0 944.0,1302.1 953.7,1299.7 970.7,1297.3 975.5,1294.9 982.8,1302.1 992.4,1311.8 994.9,1321.5"/>
<path d="M900.4,1164.1 910.1,1173.8 915.0,1183.5 919.8,1195.6 931.9,1202.9 939.2,1210.1 951.3,1212.5 961.0,1210.1 968.2,1217.4 965.8,1229.5 968.2,1239.2 973.1,1253.7 982.8,1263.4 977.9,1273.1 973.1,1282.8 975.5,1294.9"/>
<path d="M968.2,1217.4 977.9,1229.5 987.6,1234.3 1002.1,1236.8 1014.2,1234.3 1026.3,1231.9 1038.5,1234.3 1050.6,1227.1 1062.7,1217.4 1074.8,1210.1 1089.3,1207.7 1103.8,1210.1 1123.2,1211.3"/>
<path d="M934.3,1079.4 948.9,1086.6 961.0,1084.2 977.9,1084.2 992.4,1084.2 1007.0,1081.8 1021.5,1074.5 1036.0,1064.8 1045.7,1060.0 1055.4,1067.3 1069.9,1079.4 1084.5,1098.7 1091.7,1113.3 1094.1,1132.6 1099.0,1147.2 1108.7,1154.4 1118.4,1149.6 1128.0,1147.2 1137.7,1149.6"/>
<path d="M1125.6,1277.9 1113.5,1280.3 1103.8,1280.3 1094.1,1285.2 1084.5,1292.4 1077.2,1302.1 1074.8,1311.8"/>
<path d="M131.2,1274.1 149.0,1269.0 151.5,1279.2 166.8,1284.2 177.0,1281.7 189.7,1284.2 192.2,1294.4 199.8,1302.0 192.2,1309.7 179.5,1317.3 177.0,1324.9 174.4,1340.2 166.8,1347.8 161.7,1358.0 151.5,1363.1 149.0,1368.2 154.1,1383.4 156.6,1393.6 149.0,1401.2 146.4,1408.8 151.5,1419.0 143.9,1424.1 136.3,1434.3 133.7,1452.1"/>
<path d="M280.9,815.8 273.9,819.8 267.9,823.8 263.9,827.8 257.9,831.8 261.9,839.8 265.9,847.8 271.9,843.8 277.9,839.8 281.9,843.8 285.9,851.8 287.9,855.8 291.9,857.8"/>
<path d="M688.4,1030.8 693.3,1036.9 696.9,1046.6 700.5,1057.5 707.8,1067.2 717.5,1074.4 724.7,1081.7 732.0,1089.0 739.3,1092.6 749.0,1091.4 755.0,1086.5 758.6,1078.1 767.1,1076.9 775.6,1079.3 785.3,1082.9 795.0,1082.9 804.6,1084.1 807.1,1079.3 815.5,1076.9 824.0,1072.0 831.3,1064.7 836.1,1055.1 840.0,1051.4"/>
<path d="M688.4,1030.8 694.5,1026.0 703.0,1020.0 712.6,1016.3 722.3,1012.7 732.0,1009.1 736.9,1005.4 741.7,1004.2 745.3,1006.6 749.0,1009.1 753.8,1007.8 755.0,1003.0 761.1,1005.4 767.1,1010.3 773.2,1013.9 782.9,1015.1 785.3,1020.0 790.1,1026.0 795.0,1032.1 797.4,1029.6 801.0,1021.2 807.1,1022.4 814.3,1024.8 819.2,1026.0 824.0,1028.4 828.9,1032.1 833.7,1033.3 840.0,1032.1"/>
<path d="M732.0,1089.0 729.6,1096.2 722.3,1101.1 712.6,1107.1 707.8,1110.8 711.4,1115.6 712.6,1125.3 710.2,1131.3 704.2,1128.9 692.1,1126.5 676.3,1131.3 664.2,1136.2 652.1,1133.8 640.0,1138.6"/>
<path d="M804.6,1084.1 807.1,1089.0 805.9,1096.2 809.5,1107.1 811.9,1113.2 809.5,1120.4 802.2,1125.3 802.2,1135.0 799.8,1144.6 792.5,1151.9 790.1,1154.3"/>
</g>
<rect x="1416.5" y="178.9" width="241" height="110.5" fill="#eafdfd" stroke="#474747" stroke-width="3"/>
<rect x="1416.5" y="300.3" width="241" height="110.5" fill="#eafdfd" stroke="#474747" stroke-width="3"/>
<rect x="1416.5" y="421.7" width="241" height="110.5" fill="#eafdfd" stroke="#474747" stroke-width="3"/>
<rect x="1416.5" y="543.1" width="241" height="110.5" fill="#eafdfd" stroke="#474747" stroke-width="3"/>
<rect x="1416.5" y="664.5" width="241" height="110.5" fill="#eafdfd" stroke="#474747" stroke-width="3"/>
<rect x="1416.5" y="785.9" width="241" height="110.5" fill="#eafdfd" stroke="#474747" stroke-width="3"/>
<rect x="1416.5" y="907.3" width="241" height="110.5" fill="#eafdfd" stroke="#474747" stroke-width="3"/>
<rect x="1416.5" y="1028.7" width="241" height="110.5" fill="#eafdfd" stroke="#474747" stroke-width="3"/>
<clipPath id="ic"><rect x="1418" y="180.0" width="238" height="971.2"/></clipPath>
<g clip-path="url(#ic)">
<path d="M1434.1,281.0 1439.4,278.3 1442.9,275.7 1445.5,277.5 1442.9,282.7 1441.1,285.3 1438.5,283.6Z" fill="#4f6cb0" stroke="#333" stroke-width="0.8"/>
<path d="M1440.2,229.4 1443.7,226.7 1449.9,227.6 1452.5,232.9 1450.7,240.7 1447.2,246.0 1443.7,239.0Z" fill="#4f6cb0" stroke="#333" stroke-width="0.8"/>
<path d="M1468.2,261.7 1470.9,258.6 1475.2,259.1 1478.7,262.6 1476.1,266.1 1472.6,267.3 1469.1,265.2Z" fill="#4f6cb0" stroke="#333" stroke-width="0.8"/>
<path d="M1488.3,251.2 1495.3,249.5 1503.2,247.7 1509.3,243.4 1514.6,240.4 1521.6,240.7 1519.0,244.2 1512.0,251.2 1508.5,260.0 1505.0,266.1 1499.7,268.7 1495.3,265.2 1491.0,256.5Z" fill="#4f6cb0" stroke="#333" stroke-width="0.8"/>
<path d="M1534.7,268.7 1536.5,263.5 1542.6,260.3 1548.7,260.8 1552.2,259.1 1554.0,267.0 1553.1,274.0 1549.6,278.3 1544.3,281.0 1538.2,278.3 1534.7,274.0Z" fill="#4f6cb0" stroke="#333" stroke-width="0.8"/>
<path d="M1591.6,264.3 1601.2,261.7 1608.2,254.7 1613.4,246.0 1612.6,239.0 1614.3,233.7 1619.6,232.0 1621.3,239.0 1619.6,251.2 1616.9,257.3 1609.9,260.0 1602.9,263.5 1597.7,266.1Z" fill="#4f6cb0" stroke="#333" stroke-width="0.8"/>
<path d="M1619.6,226.7 1621.3,221.5 1627.4,215.4 1634.4,211.0 1635.3,206.6 1637.9,211.0 1636.2,216.2 1629.2,221.5 1622.2,226.7Z" fill="#4f6cb0" stroke="#333" stroke-width="0.8"/>
<path d="M1503.2,352.7 1505.8,350.1 1512.0,349.2 1522.5,354.4 1524.2,359.7 1526.0,366.7 1526.8,378.9 1522.5,385.9 1513.7,389.4 1509.3,382.4 1505.8,371.9 1505.0,361.4Z" fill="#4f6cb0" stroke="#333" stroke-width="0.8"/>
<path d="M1524.2,357.9 1530.3,350.1 1529.5,342.2 1534.7,334.3 1540.0,337.8 1541.7,345.7 1545.2,350.9 1552.2,353.6 1557.5,357.9 1547.0,361.4 1534.7,364.9 1527.7,363.2Z" fill="#4f6cb0" stroke="#333" stroke-width="0.8"/>
<path d="M1548.7,387.7 1552.2,384.2 1557.5,385.1 1560.1,390.3 1557.5,395.6 1553.1,397.3 1549.6,393.8Z" fill="#4f6cb0" stroke="#333" stroke-width="0.8"/>
<path d="M1519.8,396.4 1526.0,396.4 1526.8,400.8 1520.7,399.1Z" fill="#4f6cb0" stroke="#333" stroke-width="0.8"/>
<path d="M1572.3,353.6 1574.9,350.9 1577.6,351.8 1576.7,354.4 1574.1,355.3Z" fill="#4f6cb0" stroke="#333" stroke-width="0.8"/>
<path d="M1503.2,457.2 1506.7,452.9 1515.5,449.9 1522.5,452.9 1533.0,457.2 1540.0,464.2 1546.1,472.1 1549.6,477.4 1545.2,481.7 1552.2,487.0 1559.2,495.7 1561.8,502.7 1564.5,510.6 1561.8,518.5 1555.7,523.7 1554.0,517.6 1547.0,513.2 1538.2,512.3 1529.5,514.1 1525.1,511.5 1524.2,502.7 1533.0,499.2 1536.5,496.6 1529.5,492.2 1522.5,490.5 1515.5,484.4 1510.2,476.5 1509.3,467.7Z" fill="#4f6cb0" stroke="#333" stroke-width="0.8"/>
<path d="M1547.0,467.7 1553.1,464.2 1555.7,468.6 1549.6,473.0Z" fill="#4f6cb0" stroke="#333" stroke-width="0.8"/>
<path d="M1417.5,555.2 1424.5,557.0 1435.0,565.7 1442.0,573.6 1461.2,573.6 1478.7,572.7 1494.5,574.1 1501.5,577.1 1547.0,603.3 1554.0,609.4 1558.3,623.4 1562.7,637.4 1567.1,647.1 1572.3,652.3 1417.5,652.3Z" fill="#e1e1e1"/>
<path d="M1501.5,577.6 1513.7,580.6 1520.7,582.3 1529.5,588.4 1536.5,595.4 1543.5,598.9 1546.1,607.7 1541.7,616.4 1534.7,625.2 1529.5,635.7 1526.0,642.7 1520.7,646.2 1513.7,645.3 1506.7,646.2 1498.0,647.9 1489.2,644.4 1495.3,637.4 1498.0,626.9 1500.6,619.1 1495.3,612.9 1492.7,602.4 1491.8,591.9 1496.2,584.9Z" fill="#4f6cb0" stroke="#333" stroke-width="0.8"/>
<path d="M1500.6,720.6 1506.7,716.2 1508.5,705.7 1512.0,706.6 1520.7,700.5 1529.5,698.4 1540.0,701.4 1548.7,702.2 1555.7,707.5 1559.2,716.2 1564.5,725.0 1573.2,732.9 1574.9,739.0 1572.3,746.0 1572.3,758.2 1567.9,763.5 1559.2,765.2 1552.2,767.0 1545.2,765.2 1533.0,761.7 1522.5,756.5 1515.5,753.0 1510.2,746.0 1508.5,737.2 1503.2,728.5Z" fill="#4f6cb0" stroke="#333" stroke-width="0.8"/>
<path d="M1518.1,827.3 1529.5,813.3 1534.7,816.8 1536.5,827.3 1545.2,826.4 1560.1,834.3 1560.1,840.4 1549.6,853.6 1556.6,862.3 1547.0,877.2 1549.6,886.8 1541.7,889.4 1532.1,887.7 1530.3,874.6 1537.3,874.6 1540.0,868.4 1529.5,857.9 1530.3,836.9 1525.1,836.9Z" fill="#e1e1e1" stroke="#333" stroke-width="0.8"/>
<path d="M1565.3,841.3 1572.3,831.7 1575.8,838.7 1570.6,850.9Z" fill="#e1e1e1" stroke="#333" stroke-width="0.8"/>
<path d="M1432.4,928.2 1434.1,926.1 1435.9,928.2 1434.1,930.9Z" fill="#4f6cb0" stroke="#333" stroke-width="0.8"/>
<path d="M1494.5,955.4 1497.1,954.5 1499.7,957.1 1498.0,958.3Z" fill="#4f6cb0" stroke="#333" stroke-width="0.8"/>
<path d="M1500.6,958.0 1505.0,957.1 1510.2,959.7 1512.8,961.5 1507.6,962.4 1502.3,960.6Z" fill="#4f6cb0" stroke="#333" stroke-width="0.8"/>
<path d="M1507.6,951.3 1519.8,956.6 1518.1,957.6 1506.7,952.4Z" fill="#4f6cb0" stroke="#333" stroke-width="0.8"/>
<path d="M1529.5,951.0 1533.0,949.6 1536.5,950.6 1537.3,952.7 1533.8,954.1 1530.3,953.3Z" fill="#4f6cb0" stroke="#333" stroke-width="0.8"/>
<path d="M1566.2,979.0 1568.8,978.6 1571.4,980.7 1574.9,980.0 1583.7,980.7 1583.7,983.0 1578.4,983.9 1571.4,983.3 1567.9,981.6Z" fill="#4f6cb0" stroke="#333" stroke-width="0.8"/>
<path d="M1582.8,1007.0 1585.4,1006.1 1587.2,1007.8 1584.6,1008.7Z" fill="#4f6cb0" stroke="#333" stroke-width="0.8"/>
<path d="M1512.0,940.8 1513.7,940.1 1514.8,941.9 1512.8,942.2Z" fill="#4f6cb0" stroke="#333" stroke-width="0.8"/>
<path d="M1466.5,1074.3 1482.2,1059.5 1491.0,1056.8 1496.2,1061.2 1505.0,1069.9 1522.5,1076.9 1540.0,1069.9 1561.0,1067.3 1568.8,1071.7 1583.7,1089.2 1606.4,1096.2 1599.4,1108.4 1592.4,1118.9 1580.2,1129.4 1561.0,1128.6 1551.3,1132.1 1533.0,1124.2 1505.0,1110.2 1480.5,1099.7Z" fill="#4f6cb0" stroke="#333" stroke-width="0.8"/>
</g>
<text x="1537" y="203.1" text-anchor="middle" font-family="Liberation Sans, Arial, sans-serif" font-size="22" fill="#000">Canarias (ES)</text>
<text x="1537" y="324.5" text-anchor="middle" font-family="Liberation Sans, Arial, sans-serif" font-size="22" fill="#000">Guadeloupe (FR)</text>
<text x="1537" y="445.9" text-anchor="middle" font-family="Liberation Sans, Arial, sans-serif" font-size="22" fill="#000">Martinique (FR)</text>
<text x="1537" y="567.3" text-anchor="middle" font-family="Liberation Sans, Arial, sans-serif" font-size="22" fill="#000">Guyane (FR)</text>
<text x="1537" y="688.7" text-anchor="middle" font-family="Liberation Sans, Arial, sans-serif" font-size="22" fill="#000">Réunion (FR)</text>
<text x="1537" y="810.1" text-anchor="middle" font-family="Liberation Sans, Arial, sans-serif" font-size="22" fill="#000">Mayotte (FR)</text>
<text x="1537" y="931.5" text-anchor="middle" font-family="Liberation Sans, Arial, sans-serif" font-size="22" fill="#000">Açores (PT)</text>
<text x="1537" y="1052.9" text-anchor="middle" font-family="Liberation Sans, Arial, sans-serif" font-size="22" fill="#000">Madeira (PT)</text>
</svg>
<div id="logo"><span style="position:absolute;left:23px;top:24.3px;font-size:30px;font-weight:bold;color:#7b7b7b;letter-spacing:-0.45px;line-height:1;">eurostat</span>
<svg style="position:absolute;left:143px;top:30px" width="30" height="20" viewBox="0 0 30 20"><rect width="30" height="20" fill="#1f3f94"/><g fill="#f5e52a">
<circle cx="15" cy="4" r="0.9"/><circle cx="18" cy="4.8" r="0.9"/><circle cx="20.2" cy="7" r="0.9"/><circle cx="21" cy="10" r="0.9"/><circle cx="20.2" cy="13" r="0.9"/><circle cx="18" cy="15.2" r="0.9"/><circle cx="15" cy="16" r="0.9"/><circle cx="12" cy="15.2" r="0.9"/><circle cx="9.8" cy="13" r="0.9"/><circle cx="9" cy="10" r="0.9"/><circle cx="9.8" cy="7" r="0.9"/><circle cx="12" cy="4.8" r="0.9"/></g></svg>
</div>
<div id="attr"><span>Leaflet | Administrative boundaries: ©EuroGeographics ©UN-FAO ©Turkstat, Cartography: Eurostat - GISCO, 2019</span></div>
</div>
<div class="t" id="legend-title">Legend</div>
<div class="sw" style="top:1648.1px;background:#d66d2e"></div><div class="lt" style="top:1660.1px">≥ 7.3 to 14.5</div>
<div class="sw" style="top:1697.7px;background:#e5a533"></div><div class="lt" style="top:1709.7px">≥ 14.5 to 17.2</div>
<div class="sw" style="top:1747.3px;background:#f0cd92"></div><div class="lt" style="top:1759.3px">≥ 17.2 to 19.6</div>
<div class="sw" style="top:1796.9px;background:#d3d9ee"></div><div class="lt" style="top:1808.9px">≥ 19.6 to 23</div>
<div class="sw" style="top:1846.5px;background:#879fce"></div><div class="lt" style="top:1858.5px">≥ 23 to 28.3</div>
<div class="sw" style="top:1896.1px;background:#4769b0"></div><div class="lt" style="top:1908.1px">≥ 28.3 to 49.5</div>
<div class="sw" style="top:1945.7px;background:#808080"></div><div class="lt" style="top:1957.7px">Data not available</div>
<div class="ft" style="top:2113.2px">People at risk of poverty or social exclusion by NUTS 2 regions [tgs00107]</div>
<div class="ft" style="top:2149px">Source of data: Eurostat - Last updated date: Friday, December 15, 2023 11:00 PM</div>
<div class="ft" style="top:2185.8px">Disclaimer: This map has been created automatically by ESTAT/EC software according to external user specifications for which ESTAT/EC is not</div>
<div class="ft" style="top:2222.7px">responsible. Map included.</div>
<div class="ft" style="top:2258.5px">General disclaimer of the EC website: https://ec.europa.eu/info/legal-notice_en</div>
</body></html>
